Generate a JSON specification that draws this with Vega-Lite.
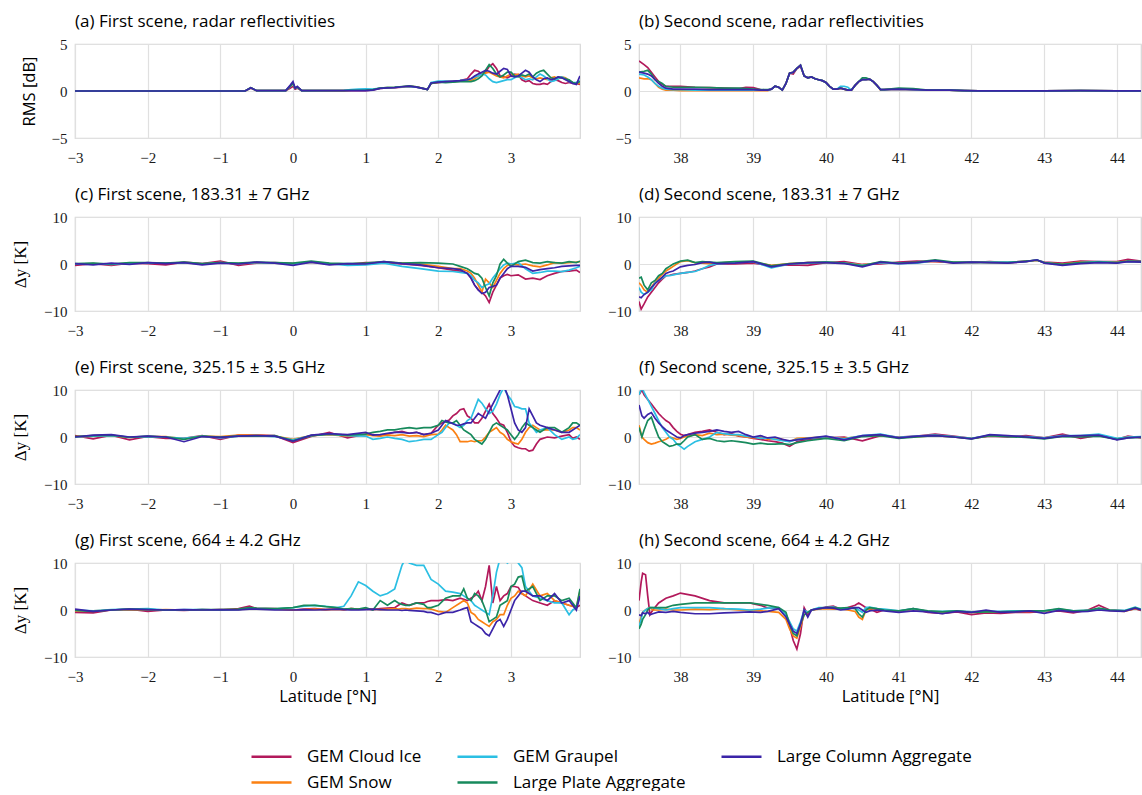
{
"$schema": "https://vega.github.io/schema/vega-lite/v6.json",
"padding": {"left": 10, "top": 12, "right": 0, "bottom": 0},
"columns": 2,
"spacing": {"row": 79, "column": 59},
"bounds": "flush",
"config": {
 "font": "Open Sans",
 "view": {"stroke": "#d6d6d6", "strokeWidth": 1.2},
 "axis": {"domain": false, "ticks": false, "grid": true, "gridColor": "#e0e0e0", "gridWidth": 1.2, "labelFlush": false, "labelOverlap": false, "labelFont": "Liberation Serif", "labelFontSize": 15, "labelColor": "#1a1a1a", "titleFont": "Open Sans", "titleFontSize": 16.5, "titleFontWeight": "normal", "titleColor": "#000000"},
 "axisX": {"labelPadding": 12, "titlePadding": 4},
 "axisY": {"labelPadding": 8, "titlePadding": 14},
 "title": {"font": "Open Sans", "fontSize": 17, "fontWeight": "normal", "anchor": "start", "frame": "group", "offset": 6, "color": "#000000"},
 "legend": {"padding": 0}
},
"datasets": {
"a": [
{"s":"A","x":-3,"y":0},{"s":"A","x":-2,"y":0},{"s":"A","x":-1,"y":0},{"s":"A","x":-0.66,"y":0},{"s":"A","x":-0.58,"y":0.3},{"s":"A","x":-0.5,"y":0.03},{"s":"A","x":-0.1,"y":0.05},{"s":"A","x":-0.04,"y":0.3},{"s":"A","x":0,"y":0.5},{"s":"A","x":0.03,"y":0.2},{"s":"A","x":0.06,"y":0.3},{"s":"A","x":0.12,"y":0.05},{"s":"A","x":0.7,"y":0.05},
{"s":"A","x":0.8,"y":0.05},{"s":"A","x":0.9,"y":0.05},{"s":"A","x":1,"y":0.05},{"s":"A","x":1.1,"y":0.12},{"s":"A","x":1.2,"y":0.28},{"s":"A","x":1.3,"y":0.33},{"s":"A","x":1.4,"y":0.35},{"s":"A","x":1.5,"y":0.42},{"s":"A","x":1.6,"y":0.5},{"s":"A","x":1.7,"y":0.42},{"s":"A","x":1.8,"y":0.25},{"s":"A","x":1.85,"y":0.15},{"s":"A","x":1.9,"y":0.8},{"s":"A","x":2,"y":0.9},{"s":"A","x":2.1,"y":1},{"s":"A","x":2.2,"y":1},{"s":"A","x":2.3,"y":1.1},{"s":"A","x":2.4,"y":1.3},
{"s":"A","x":2.45,"y":1.8},{"s":"A","x":2.5,"y":2.2},{"s":"A","x":2.55,"y":2.1},{"s":"A","x":2.6,"y":1.8},{"s":"A","x":2.65,"y":2},{"s":"A","x":2.7,"y":2.6},{"s":"A","x":2.75,"y":2.9},{"s":"A","x":2.8,"y":2.4},{"s":"A","x":2.85,"y":1.6},{"s":"A","x":2.9,"y":1.5},{"s":"A","x":2.95,"y":1.4},{"s":"A","x":3,"y":1.6},{"s":"A","x":3.05,"y":1.8},{"s":"A","x":3.1,"y":1.7},{"s":"A","x":3.15,"y":1.2},{"s":"A","x":3.2,"y":1},{"s":"A","x":3.25,"y":1.1},{"s":"A","x":3.3,"y":0.8},{"s":"A","x":3.35,"y":0.7},{"s":"A","x":3.4,"y":0.7},{"s":"A","x":3.45,"y":0.8},{"s":"A","x":3.5,"y":0.7},{"s":"A","x":3.55,"y":1},{"s":"A","x":3.6,"y":1.2},{"s":"A","x":3.65,"y":1.1},{"s":"A","x":3.7,"y":0.9},{"s":"A","x":3.75,"y":0.8},{"s":"A","x":3.8,"y":0.9},{"s":"A","x":3.85,"y":0.8},{"s":"A","x":3.9,"y":0.8},{"s":"A","x":3.95,"y":0.7},
{"s":"B","x":-3,"y":0},{"s":"B","x":-2,"y":0},{"s":"B","x":-1,"y":0},{"s":"B","x":-0.66,"y":0},{"s":"B","x":-0.58,"y":0.35},{"s":"B","x":-0.5,"y":0.03},{"s":"B","x":-0.1,"y":0.05},{"s":"B","x":-0.04,"y":0.5},{"s":"B","x":0,"y":0.8},{"s":"B","x":0.03,"y":0.3},{"s":"B","x":0.06,"y":0.4},{"s":"B","x":0.12,"y":0.05},{"s":"B","x":0.7,"y":0.05},
{"s":"B","x":0.8,"y":0.08},{"s":"B","x":0.9,"y":0.1},{"s":"B","x":1,"y":0.1},{"s":"B","x":1.1,"y":0.15},{"s":"B","x":1.2,"y":0.3},{"s":"B","x":1.3,"y":0.35},{"s":"B","x":1.4,"y":0.38},{"s":"B","x":1.5,"y":0.45},{"s":"B","x":1.6,"y":0.5},{"s":"B","x":1.7,"y":0.45},{"s":"B","x":1.8,"y":0.25},{"s":"B","x":1.85,"y":0.15},{"s":"B","x":1.9,"y":0.85},{"s":"B","x":2,"y":0.95},{"s":"B","x":2.1,"y":1},{"s":"B","x":2.2,"y":1},{"s":"B","x":2.3,"y":1.05},{"s":"B","x":2.4,"y":1.1},
{"s":"B","x":2.45,"y":1.1},{"s":"B","x":2.5,"y":1.3},{"s":"B","x":2.55,"y":1.6},{"s":"B","x":2.6,"y":1.8},{"s":"B","x":2.65,"y":1.9},{"s":"B","x":2.7,"y":2},{"s":"B","x":2.75,"y":1.8},{"s":"B","x":2.8,"y":1.6},{"s":"B","x":2.85,"y":1.5},{"s":"B","x":2.9,"y":1.4},{"s":"B","x":2.95,"y":1.6},{"s":"B","x":3,"y":1.8},{"s":"B","x":3.05,"y":1.7},{"s":"B","x":3.1,"y":1.8},{"s":"B","x":3.15,"y":1.6},{"s":"B","x":3.2,"y":1.5},{"s":"B","x":3.25,"y":1.6},{"s":"B","x":3.3,"y":1.4},{"s":"B","x":3.35,"y":1.3},{"s":"B","x":3.4,"y":1.4},{"s":"B","x":3.45,"y":1.3},{"s":"B","x":3.5,"y":1.2},{"s":"B","x":3.55,"y":1.4},{"s":"B","x":3.6,"y":1.5},{"s":"B","x":3.65,"y":1.3},{"s":"B","x":3.7,"y":1.5},{"s":"B","x":3.75,"y":1.4},{"s":"B","x":3.8,"y":1.1},{"s":"B","x":3.85,"y":0.9},{"s":"B","x":3.9,"y":0.8},{"s":"B","x":3.95,"y":0.8},
{"s":"C","x":-3,"y":0},{"s":"C","x":-2,"y":0},{"s":"C","x":-1,"y":0},{"s":"C","x":-0.66,"y":0},{"s":"C","x":-0.58,"y":0.35},{"s":"C","x":-0.5,"y":0.03},{"s":"C","x":-0.1,"y":0.05},{"s":"C","x":-0.04,"y":0.5},{"s":"C","x":0,"y":0.8},{"s":"C","x":0.03,"y":0.3},{"s":"C","x":0.06,"y":0.4},{"s":"C","x":0.12,"y":0.05},{"s":"C","x":0.7,"y":0.08},
{"s":"C","x":0.8,"y":0.15},{"s":"C","x":0.9,"y":0.2},{"s":"C","x":1,"y":0.22},{"s":"C","x":1.1,"y":0.2},{"s":"C","x":1.2,"y":0.3},{"s":"C","x":1.3,"y":0.35},{"s":"C","x":1.4,"y":0.38},{"s":"C","x":1.5,"y":0.45},{"s":"C","x":1.6,"y":0.45},{"s":"C","x":1.7,"y":0.4},{"s":"C","x":1.8,"y":0.25},{"s":"C","x":1.85,"y":0.15},{"s":"C","x":1.9,"y":0.9},{"s":"C","x":2,"y":1.05},{"s":"C","x":2.1,"y":1.05},{"s":"C","x":2.2,"y":1},{"s":"C","x":2.3,"y":1.1},{"s":"C","x":2.4,"y":1.2},
{"s":"C","x":2.45,"y":1.3},{"s":"C","x":2.5,"y":1.5},{"s":"C","x":2.55,"y":1.6},{"s":"C","x":2.6,"y":1.8},{"s":"C","x":2.65,"y":1.7},{"s":"C","x":2.7,"y":1.3},{"s":"C","x":2.75,"y":1},{"s":"C","x":2.8,"y":0.9},{"s":"C","x":2.85,"y":1},{"s":"C","x":2.9,"y":1.1},{"s":"C","x":2.95,"y":1.2},{"s":"C","x":3,"y":1.2},{"s":"C","x":3.05,"y":1.4},{"s":"C","x":3.1,"y":1.6},{"s":"C","x":3.15,"y":1.4},{"s":"C","x":3.2,"y":1.2},{"s":"C","x":3.25,"y":1.3},{"s":"C","x":3.3,"y":1.2},{"s":"C","x":3.35,"y":1.5},{"s":"C","x":3.4,"y":1.8},{"s":"C","x":3.45,"y":1.6},{"s":"C","x":3.5,"y":1.3},{"s":"C","x":3.55,"y":1},{"s":"C","x":3.6,"y":1.1},{"s":"C","x":3.65,"y":1.3},{"s":"C","x":3.7,"y":1.5},{"s":"C","x":3.75,"y":1.3},{"s":"C","x":3.8,"y":1},{"s":"C","x":3.85,"y":0.9},{"s":"C","x":3.9,"y":0.9},{"s":"C","x":3.95,"y":1.1},
{"s":"D","x":-3,"y":0},{"s":"D","x":-2,"y":0},{"s":"D","x":-1,"y":0},{"s":"D","x":-0.66,"y":0},{"s":"D","x":-0.58,"y":0.35},{"s":"D","x":-0.5,"y":0.03},{"s":"D","x":-0.1,"y":0.05},{"s":"D","x":-0.04,"y":0.5},{"s":"D","x":0,"y":0.8},{"s":"D","x":0.03,"y":0.3},{"s":"D","x":0.06,"y":0.4},{"s":"D","x":0.12,"y":0.05},{"s":"D","x":0.7,"y":0.05},
{"s":"D","x":0.8,"y":0.08},{"s":"D","x":0.9,"y":0.08},{"s":"D","x":1,"y":0.1},{"s":"D","x":1.1,"y":0.15},{"s":"D","x":1.2,"y":0.3},{"s":"D","x":1.3,"y":0.35},{"s":"D","x":1.4,"y":0.4},{"s":"D","x":1.5,"y":0.48},{"s":"D","x":1.6,"y":0.55},{"s":"D","x":1.7,"y":0.45},{"s":"D","x":1.8,"y":0.25},{"s":"D","x":1.85,"y":0.15},{"s":"D","x":1.9,"y":0.8},{"s":"D","x":2,"y":0.95},{"s":"D","x":2.1,"y":0.9},{"s":"D","x":2.2,"y":0.95},{"s":"D","x":2.3,"y":1},{"s":"D","x":2.4,"y":1},
{"s":"D","x":2.45,"y":1},{"s":"D","x":2.5,"y":1.1},{"s":"D","x":2.55,"y":1.3},{"s":"D","x":2.6,"y":1.6},{"s":"D","x":2.65,"y":2.2},{"s":"D","x":2.7,"y":2.8},{"s":"D","x":2.75,"y":2.4},{"s":"D","x":2.8,"y":1.8},{"s":"D","x":2.85,"y":1.5},{"s":"D","x":2.9,"y":1.7},{"s":"D","x":2.95,"y":2},{"s":"D","x":3,"y":2},{"s":"D","x":3.05,"y":1.6},{"s":"D","x":3.1,"y":1.5},{"s":"D","x":3.15,"y":1.7},{"s":"D","x":3.2,"y":1.6},{"s":"D","x":3.25,"y":1.8},{"s":"D","x":3.3,"y":1.5},{"s":"D","x":3.35,"y":1.9},{"s":"D","x":3.4,"y":2.1},{"s":"D","x":3.45,"y":2.2},{"s":"D","x":3.5,"y":1.8},{"s":"D","x":3.55,"y":1.4},{"s":"D","x":3.6,"y":1.3},{"s":"D","x":3.65,"y":1.5},{"s":"D","x":3.7,"y":1.4},{"s":"D","x":3.75,"y":1.3},{"s":"D","x":3.8,"y":1.2},{"s":"D","x":3.85,"y":0.9},{"s":"D","x":3.9,"y":0.8},{"s":"D","x":3.95,"y":1},
{"s":"E","x":-3,"y":0},{"s":"E","x":-2,"y":0},{"s":"E","x":-1,"y":0},{"s":"E","x":-0.66,"y":0},{"s":"E","x":-0.58,"y":0.35},{"s":"E","x":-0.5,"y":0.03},{"s":"E","x":-0.1,"y":0.05},{"s":"E","x":-0.04,"y":0.6},{"s":"E","x":0,"y":1},{"s":"E","x":0.03,"y":0.3},{"s":"E","x":0.06,"y":0.5},{"s":"E","x":0.12,"y":0.05},{"s":"E","x":0.7,"y":0.05},
{"s":"E","x":0.8,"y":0.05},{"s":"E","x":0.9,"y":0.05},{"s":"E","x":1,"y":0.05},{"s":"E","x":1.1,"y":0.1},{"s":"E","x":1.2,"y":0.28},{"s":"E","x":1.3,"y":0.33},{"s":"E","x":1.4,"y":0.36},{"s":"E","x":1.5,"y":0.45},{"s":"E","x":1.6,"y":0.52},{"s":"E","x":1.7,"y":0.42},{"s":"E","x":1.8,"y":0.25},{"s":"E","x":1.85,"y":0.15},{"s":"E","x":1.9,"y":0.85},{"s":"E","x":2,"y":0.95},{"s":"E","x":2.1,"y":1},{"s":"E","x":2.2,"y":1.05},{"s":"E","x":2.3,"y":1.1},{"s":"E","x":2.4,"y":1.2},
{"s":"E","x":2.45,"y":1.3},{"s":"E","x":2.5,"y":1.6},{"s":"E","x":2.55,"y":1.8},{"s":"E","x":2.6,"y":2},{"s":"E","x":2.65,"y":2.2},{"s":"E","x":2.7,"y":2.1},{"s":"E","x":2.75,"y":1.9},{"s":"E","x":2.8,"y":1.8},{"s":"E","x":2.85,"y":2.1},{"s":"E","x":2.9,"y":2.4},{"s":"E","x":2.95,"y":2.3},{"s":"E","x":3,"y":1.6},{"s":"E","x":3.05,"y":1.5},{"s":"E","x":3.1,"y":1.6},{"s":"E","x":3.15,"y":1.9},{"s":"E","x":3.2,"y":2.2},{"s":"E","x":3.25,"y":2},{"s":"E","x":3.3,"y":1.5},{"s":"E","x":3.35,"y":1.2},{"s":"E","x":3.4,"y":1},{"s":"E","x":3.45,"y":1.3},{"s":"E","x":3.5,"y":1.4},{"s":"E","x":3.55,"y":1.2},{"s":"E","x":3.6,"y":1.3},{"s":"E","x":3.65,"y":1.5},{"s":"E","x":3.7,"y":1.4},{"s":"E","x":3.75,"y":1.2},{"s":"E","x":3.8,"y":1},{"s":"E","x":3.85,"y":0.8},{"s":"E","x":3.9,"y":0.7},{"s":"E","x":3.95,"y":1.6}
],
"b": [
{"s":"A","x":37.43,"y":3.2},{"s":"A","x":37.5,"y":2.8},{"s":"A","x":37.55,"y":2.5},{"s":"A","x":37.6,"y":2},{"s":"A","x":37.65,"y":1.5},{"s":"A","x":37.7,"y":1},{"s":"A","x":37.75,"y":0.7},{"s":"A","x":37.8,"y":0.5},{"s":"A","x":37.9,"y":0.5},{"s":"A","x":38,"y":0.5},{"s":"A","x":38.2,"y":0.4},{"s":"A","x":38.4,"y":0.35},{"s":"A","x":38.6,"y":0.3},{"s":"A","x":38.8,"y":0.25},{"s":"A","x":38.9,"y":0.4},{"s":"A","x":39,"y":0.35},{"s":"A","x":39.1,"y":0.15},{"s":"A","x":39.2,"y":0.1},
{"s":"A","x":39.25,"y":0.2},{"s":"A","x":39.3,"y":0.5},{"s":"A","x":39.35,"y":0.4},{"s":"A","x":39.4,"y":0.1},{"s":"A","x":39.45,"y":0.8},{"s":"A","x":39.5,"y":1.9},{"s":"A","x":39.55,"y":1.8},{"s":"A","x":39.6,"y":2.4},{"s":"A","x":39.65,"y":2.6},{"s":"A","x":39.7,"y":1.6},{"s":"A","x":39.75,"y":1.4},{"s":"A","x":39.8,"y":1.5},{"s":"A","x":39.85,"y":1.3},{"s":"A","x":39.9,"y":1.2},{"s":"A","x":39.95,"y":1.1},{"s":"A","x":40,"y":0.9},{"s":"A","x":40.05,"y":0.5},{"s":"A","x":40.1,"y":0.2},{"s":"A","x":40.15,"y":0.2},{"s":"A","x":40.2,"y":0.3},{"s":"A","x":40.25,"y":0.2},{"s":"A","x":40.3,"y":0.1},{"s":"A","x":40.35,"y":0.1},{"s":"A","x":40.4,"y":0.6},{"s":"A","x":40.45,"y":1},{"s":"A","x":40.5,"y":1.2},{"s":"A","x":40.55,"y":1.2},{"s":"A","x":40.6,"y":1.25},{"s":"A","x":40.65,"y":1},{"s":"A","x":40.7,"y":0.6},{"s":"A","x":40.75,"y":0.15},{"s":"A","x":40.8,"y":0.15},{"s":"A","x":41,"y":0.2},{"s":"A","x":41.2,"y":0.15},{"s":"A","x":41.4,"y":0.1},{"s":"A","x":41.7,"y":0.1},{"s":"A","x":41.9,"y":0.05},{"s":"A","x":42.1,"y":0.02},{"s":"A","x":43,"y":0.02},{"s":"A","x":43.5,"y":0.05},{"s":"A","x":44,"y":0.02},{"s":"A","x":44.33,"y":0.02},
{"s":"B","x":37.43,"y":1.4},{"s":"B","x":37.5,"y":1.3},{"s":"B","x":37.55,"y":1.3},{"s":"B","x":37.6,"y":1.2},{"s":"B","x":37.65,"y":0.8},{"s":"B","x":37.7,"y":0.4},{"s":"B","x":37.75,"y":0.2},{"s":"B","x":37.8,"y":0.1},{"s":"B","x":37.9,"y":0.1},{"s":"B","x":38,"y":0.05},{"s":"B","x":38.2,"y":0.05},{"s":"B","x":38.4,"y":0.05},{"s":"B","x":38.6,"y":0.05},{"s":"B","x":38.8,"y":0.05},{"s":"B","x":38.9,"y":0.05},{"s":"B","x":39,"y":0.05},{"s":"B","x":39.1,"y":0.05},{"s":"B","x":39.2,"y":0.05},
{"s":"B","x":39.25,"y":0.2},{"s":"B","x":39.3,"y":0.5},{"s":"B","x":39.35,"y":0.4},{"s":"B","x":39.4,"y":0.1},{"s":"B","x":39.45,"y":0.8},{"s":"B","x":39.5,"y":1.9},{"s":"B","x":39.55,"y":2},{"s":"B","x":39.6,"y":2.4},{"s":"B","x":39.65,"y":2.75},{"s":"B","x":39.7,"y":1.6},{"s":"B","x":39.75,"y":1.4},{"s":"B","x":39.8,"y":1.5},{"s":"B","x":39.85,"y":1.3},{"s":"B","x":39.9,"y":1.2},{"s":"B","x":39.95,"y":1.1},{"s":"B","x":40,"y":0.9},{"s":"B","x":40.05,"y":0.5},{"s":"B","x":40.1,"y":0.2},{"s":"B","x":40.15,"y":0.2},{"s":"B","x":40.2,"y":0.3},{"s":"B","x":40.25,"y":0.2},{"s":"B","x":40.3,"y":0.1},{"s":"B","x":40.35,"y":0.1},{"s":"B","x":40.4,"y":0.6},{"s":"B","x":40.45,"y":1},{"s":"B","x":40.5,"y":1.2},{"s":"B","x":40.55,"y":1.2},{"s":"B","x":40.6,"y":1.25},{"s":"B","x":40.65,"y":1},{"s":"B","x":40.7,"y":0.6},{"s":"B","x":40.75,"y":0.1},{"s":"B","x":40.8,"y":0.15},{"s":"B","x":41,"y":0.2},{"s":"B","x":41.2,"y":0.15},{"s":"B","x":41.4,"y":0.1},{"s":"B","x":41.7,"y":0.1},{"s":"B","x":41.9,"y":0.05},{"s":"B","x":42.1,"y":0.02},{"s":"B","x":43,"y":0.02},{"s":"B","x":43.5,"y":0.05},{"s":"B","x":44,"y":0.02},{"s":"B","x":44.33,"y":0.02},
{"s":"C","x":37.43,"y":1.8},{"s":"C","x":37.5,"y":1.7},{"s":"C","x":37.55,"y":1.5},{"s":"C","x":37.6,"y":1.2},{"s":"C","x":37.65,"y":0.8},{"s":"C","x":37.7,"y":0.5},{"s":"C","x":37.75,"y":0.3},{"s":"C","x":37.8,"y":0.2},{"s":"C","x":37.9,"y":0.15},{"s":"C","x":38,"y":0.15},{"s":"C","x":38.2,"y":0.1},{"s":"C","x":38.4,"y":0.1},{"s":"C","x":38.6,"y":0.1},{"s":"C","x":38.8,"y":0.1},{"s":"C","x":38.9,"y":0.1},{"s":"C","x":39,"y":0.1},{"s":"C","x":39.1,"y":0.1},{"s":"C","x":39.2,"y":0.1},
{"s":"C","x":39.25,"y":0.2},{"s":"C","x":39.3,"y":0.5},{"s":"C","x":39.35,"y":0.4},{"s":"C","x":39.4,"y":0.1},{"s":"C","x":39.45,"y":0.8},{"s":"C","x":39.5,"y":1.9},{"s":"C","x":39.55,"y":2},{"s":"C","x":39.6,"y":2.4},{"s":"C","x":39.65,"y":2.75},{"s":"C","x":39.7,"y":1.6},{"s":"C","x":39.75,"y":1.4},{"s":"C","x":39.8,"y":1.5},{"s":"C","x":39.85,"y":1.3},{"s":"C","x":39.9,"y":1.2},{"s":"C","x":39.95,"y":1.1},{"s":"C","x":40,"y":0.9},{"s":"C","x":40.05,"y":0.5},{"s":"C","x":40.1,"y":0.2},{"s":"C","x":40.15,"y":0.2},{"s":"C","x":40.2,"y":0.5},{"s":"C","x":40.25,"y":0.5},{"s":"C","x":40.3,"y":0.4},{"s":"C","x":40.35,"y":0.1},{"s":"C","x":40.4,"y":0.6},{"s":"C","x":40.45,"y":1},{"s":"C","x":40.5,"y":1.2},{"s":"C","x":40.55,"y":1.2},{"s":"C","x":40.6,"y":1.25},{"s":"C","x":40.65,"y":1},{"s":"C","x":40.7,"y":0.6},{"s":"C","x":40.75,"y":0.15},{"s":"C","x":40.8,"y":0.15},{"s":"C","x":41,"y":0.2},{"s":"C","x":41.2,"y":0.15},{"s":"C","x":41.4,"y":0.1},{"s":"C","x":41.7,"y":0.1},{"s":"C","x":41.9,"y":0.05},{"s":"C","x":42.1,"y":0.02},{"s":"C","x":43,"y":0.02},{"s":"C","x":43.5,"y":0.05},{"s":"C","x":44,"y":0.02},{"s":"C","x":44.33,"y":0.02},
{"s":"D","x":37.43,"y":2},{"s":"D","x":37.5,"y":2.1},{"s":"D","x":37.55,"y":2.2},{"s":"D","x":37.6,"y":1.8},{"s":"D","x":37.65,"y":1.2},{"s":"D","x":37.7,"y":1},{"s":"D","x":37.75,"y":0.8},{"s":"D","x":37.8,"y":0.5},{"s":"D","x":37.9,"y":0.4},{"s":"D","x":38,"y":0.4},{"s":"D","x":38.2,"y":0.4},{"s":"D","x":38.4,"y":0.35},{"s":"D","x":38.6,"y":0.3},{"s":"D","x":38.8,"y":0.3},{"s":"D","x":38.9,"y":0.25},{"s":"D","x":39,"y":0.2},{"s":"D","x":39.1,"y":0.15},{"s":"D","x":39.2,"y":0.15},
{"s":"D","x":39.25,"y":0.2},{"s":"D","x":39.3,"y":0.5},{"s":"D","x":39.35,"y":0.4},{"s":"D","x":39.4,"y":0.1},{"s":"D","x":39.45,"y":0.8},{"s":"D","x":39.5,"y":1.9},{"s":"D","x":39.55,"y":2},{"s":"D","x":39.6,"y":2.4},{"s":"D","x":39.65,"y":2.75},{"s":"D","x":39.7,"y":1.6},{"s":"D","x":39.75,"y":1.4},{"s":"D","x":39.8,"y":1.5},{"s":"D","x":39.85,"y":1.3},{"s":"D","x":39.9,"y":1.2},{"s":"D","x":39.95,"y":1.1},{"s":"D","x":40,"y":0.9},{"s":"D","x":40.05,"y":0.5},{"s":"D","x":40.1,"y":0.2},{"s":"D","x":40.15,"y":0.2},{"s":"D","x":40.2,"y":0.3},{"s":"D","x":40.25,"y":0.2},{"s":"D","x":40.3,"y":0.1},{"s":"D","x":40.35,"y":0.1},{"s":"D","x":40.4,"y":0.6},{"s":"D","x":40.45,"y":1},{"s":"D","x":40.5,"y":1.4},{"s":"D","x":40.55,"y":1.4},{"s":"D","x":40.6,"y":1.25},{"s":"D","x":40.65,"y":1},{"s":"D","x":40.7,"y":0.6},{"s":"D","x":40.75,"y":0.15},{"s":"D","x":40.8,"y":0.15},{"s":"D","x":41,"y":0.3},{"s":"D","x":41.2,"y":0.25},{"s":"D","x":41.4,"y":0.1},{"s":"D","x":41.7,"y":0.1},{"s":"D","x":41.9,"y":0.05},{"s":"D","x":42.1,"y":0.02},{"s":"D","x":43,"y":0.02},{"s":"D","x":43.5,"y":0.05},{"s":"D","x":44,"y":0.02},{"s":"D","x":44.33,"y":0.02},
{"s":"E","x":37.43,"y":2},{"s":"E","x":37.5,"y":1.9},{"s":"E","x":37.55,"y":1.8},{"s":"E","x":37.6,"y":1.6},{"s":"E","x":37.65,"y":1.2},{"s":"E","x":37.7,"y":0.8},{"s":"E","x":37.75,"y":0.5},{"s":"E","x":37.8,"y":0.3},{"s":"E","x":37.9,"y":0.2},{"s":"E","x":38,"y":0.2},{"s":"E","x":38.2,"y":0.2},{"s":"E","x":38.4,"y":0.15},{"s":"E","x":38.6,"y":0.15},{"s":"E","x":38.8,"y":0.15},{"s":"E","x":38.9,"y":0.15},{"s":"E","x":39,"y":0.15},{"s":"E","x":39.1,"y":0.1},{"s":"E","x":39.2,"y":0.1},
{"s":"E","x":39.25,"y":0.2},{"s":"E","x":39.3,"y":0.5},{"s":"E","x":39.35,"y":0.4},{"s":"E","x":39.4,"y":0.1},{"s":"E","x":39.45,"y":0.8},{"s":"E","x":39.5,"y":1.9},{"s":"E","x":39.55,"y":2},{"s":"E","x":39.6,"y":2.4},{"s":"E","x":39.65,"y":2.75},{"s":"E","x":39.7,"y":1.6},{"s":"E","x":39.75,"y":1.4},{"s":"E","x":39.8,"y":1.5},{"s":"E","x":39.85,"y":1.3},{"s":"E","x":39.9,"y":1.2},{"s":"E","x":39.95,"y":1.1},{"s":"E","x":40,"y":0.9},{"s":"E","x":40.05,"y":0.5},{"s":"E","x":40.1,"y":0.2},{"s":"E","x":40.15,"y":0.2},{"s":"E","x":40.2,"y":0.3},{"s":"E","x":40.25,"y":0.2},{"s":"E","x":40.3,"y":0.1},{"s":"E","x":40.35,"y":0.1},{"s":"E","x":40.4,"y":0.6},{"s":"E","x":40.45,"y":1},{"s":"E","x":40.5,"y":1.2},{"s":"E","x":40.55,"y":1.2},{"s":"E","x":40.6,"y":1.25},{"s":"E","x":40.65,"y":1},{"s":"E","x":40.7,"y":0.6},{"s":"E","x":40.75,"y":0.15},{"s":"E","x":40.8,"y":0.15},{"s":"E","x":41,"y":0.2},{"s":"E","x":41.2,"y":0.15},{"s":"E","x":41.4,"y":0.1},{"s":"E","x":41.7,"y":0.1},{"s":"E","x":41.9,"y":0.05},{"s":"E","x":42.1,"y":0.02},{"s":"E","x":43,"y":0.02},{"s":"E","x":43.5,"y":0.05},{"s":"E","x":44,"y":0.02},{"s":"E","x":44.33,"y":0.02}
],
"c": [
{"s":"A","x":-3,"y":-0.3},{"s":"A","x":-2.75,"y":0.1},{"s":"A","x":-2.5,"y":-0.3},{"s":"A","x":-2.25,"y":0.2},{"s":"A","x":-2,"y":0.1},{"s":"A","x":-1.75,"y":-0.2},{"s":"A","x":-1.5,"y":0.4},{"s":"A","x":-1.25,"y":0.1},{"s":"A","x":-1,"y":0.6},{"s":"A","x":-0.75,"y":-0.3},{"s":"A","x":-0.5,"y":0.2},{"s":"A","x":-0.25,"y":0.3},{"s":"A","x":0,"y":0.1},{"s":"A","x":0.25,"y":0.4},{"s":"A","x":0.5,"y":0},{"s":"A","x":0.75,"y":-0.1},{"s":"A","x":1,"y":0.3},{"s":"A","x":1.25,"y":0.3},
{"s":"A","x":1.5,"y":0},{"s":"A","x":1.75,"y":-0.3},{"s":"A","x":2,"y":-0.8},{"s":"A","x":2.2,"y":-1.3},{"s":"A","x":2.3,"y":-1.5},{"s":"A","x":2.4,"y":-2},{"s":"A","x":2.45,"y":-3},{"s":"A","x":2.5,"y":-4.5},{"s":"A","x":2.55,"y":-5.5},{"s":"A","x":2.6,"y":-6},{"s":"A","x":2.65,"y":-6.8},{"s":"A","x":2.7,"y":-8.2},{"s":"A","x":2.75,"y":-6},{"s":"A","x":2.8,"y":-4.5},{"s":"A","x":2.85,"y":-3},{"s":"A","x":2.9,"y":-2.5},{"s":"A","x":2.95,"y":-2.2},{"s":"A","x":3,"y":-2.5},{"s":"A","x":3.1,"y":-2.3},{"s":"A","x":3.2,"y":-3.2},{"s":"A","x":3.3,"y":-3},{"s":"A","x":3.4,"y":-3.3},{"s":"A","x":3.5,"y":-2.5},{"s":"A","x":3.6,"y":-2},{"s":"A","x":3.7,"y":-1.6},{"s":"A","x":3.8,"y":-1.5},{"s":"A","x":3.9,"y":-1.3},{"s":"A","x":3.95,"y":-1.8},
{"s":"B","x":-3,"y":0},{"s":"B","x":-2.75,"y":0.1},{"s":"B","x":-2.5,"y":-0.1},{"s":"B","x":-2.25,"y":0.2},{"s":"B","x":-2,"y":0.2},{"s":"B","x":-1.75,"y":0.2},{"s":"B","x":-1.5,"y":0.3},{"s":"B","x":-1.25,"y":0},{"s":"B","x":-1,"y":0.3},{"s":"B","x":-0.75,"y":0.1},{"s":"B","x":-0.5,"y":0.3},{"s":"B","x":-0.25,"y":0.2},{"s":"B","x":0,"y":0},{"s":"B","x":0.25,"y":0.4},{"s":"B","x":0.5,"y":0.1},{"s":"B","x":0.75,"y":0},{"s":"B","x":1,"y":0.1},{"s":"B","x":1.25,"y":0.4},
{"s":"B","x":1.5,"y":0.2},{"s":"B","x":1.75,"y":0},{"s":"B","x":2,"y":-0.5},{"s":"B","x":2.2,"y":-1},{"s":"B","x":2.3,"y":-1},{"s":"B","x":2.4,"y":-1.5},{"s":"B","x":2.45,"y":-2},{"s":"B","x":2.5,"y":-3},{"s":"B","x":2.55,"y":-4.5},{"s":"B","x":2.6,"y":-6},{"s":"B","x":2.65,"y":-3.2},{"s":"B","x":2.7,"y":-4},{"s":"B","x":2.75,"y":-5},{"s":"B","x":2.8,"y":-3.5},{"s":"B","x":2.85,"y":-2},{"s":"B","x":2.9,"y":-1},{"s":"B","x":2.95,"y":-0.3},{"s":"B","x":3,"y":0},{"s":"B","x":3.1,"y":-0.2},{"s":"B","x":3.2,"y":0},{"s":"B","x":3.3,"y":-0.4},{"s":"B","x":3.4,"y":-0.6},{"s":"B","x":3.5,"y":-0.2},{"s":"B","x":3.6,"y":0.3},{"s":"B","x":3.7,"y":0.2},{"s":"B","x":3.8,"y":0.3},{"s":"B","x":3.9,"y":0.4},{"s":"B","x":3.95,"y":0.5},
{"s":"C","x":-3,"y":0},{"s":"C","x":-2.75,"y":0.1},{"s":"C","x":-2.5,"y":-0.1},{"s":"C","x":-2.25,"y":0.2},{"s":"C","x":-2,"y":0.2},{"s":"C","x":-1.75,"y":0.2},{"s":"C","x":-1.5,"y":0.3},{"s":"C","x":-1.25,"y":0},{"s":"C","x":-1,"y":0.3},{"s":"C","x":-0.75,"y":0.1},{"s":"C","x":-0.5,"y":0.3},{"s":"C","x":-0.25,"y":0.2},{"s":"C","x":0,"y":0},{"s":"C","x":0.25,"y":0.4},{"s":"C","x":0.5,"y":0.1},{"s":"C","x":0.75,"y":-0.3},{"s":"C","x":1,"y":-0.2},{"s":"C","x":1.25,"y":0.2},
{"s":"C","x":1.5,"y":-0.5},{"s":"C","x":1.75,"y":-1},{"s":"C","x":2,"y":-1.5},{"s":"C","x":2.2,"y":-1.6},{"s":"C","x":2.3,"y":-1.8},{"s":"C","x":2.4,"y":-2},{"s":"C","x":2.45,"y":-2.5},{"s":"C","x":2.5,"y":-3.5},{"s":"C","x":2.55,"y":-4},{"s":"C","x":2.6,"y":-5},{"s":"C","x":2.65,"y":-4.5},{"s":"C","x":2.7,"y":-4.2},{"s":"C","x":2.75,"y":-3},{"s":"C","x":2.8,"y":-2},{"s":"C","x":2.85,"y":-1},{"s":"C","x":2.9,"y":-0.2},{"s":"C","x":2.95,"y":0.2},{"s":"C","x":3,"y":0},{"s":"C","x":3.1,"y":0.3},{"s":"C","x":3.2,"y":-1},{"s":"C","x":3.3,"y":-2},{"s":"C","x":3.4,"y":-1.8},{"s":"C","x":3.5,"y":-1.5},{"s":"C","x":3.6,"y":-1.5},{"s":"C","x":3.7,"y":-1.6},{"s":"C","x":3.8,"y":-1.3},{"s":"C","x":3.9,"y":-0.8},{"s":"C","x":3.95,"y":-0.5},
{"s":"D","x":-3,"y":0.1},{"s":"D","x":-2.75,"y":0.2},{"s":"D","x":-2.5,"y":0},{"s":"D","x":-2.25,"y":0.3},{"s":"D","x":-2,"y":0.3},{"s":"D","x":-1.75,"y":0.2},{"s":"D","x":-1.5,"y":0.4},{"s":"D","x":-1.25,"y":0.1},{"s":"D","x":-1,"y":0.3},{"s":"D","x":-0.75,"y":0.2},{"s":"D","x":-0.5,"y":0.4},{"s":"D","x":-0.25,"y":0.3},{"s":"D","x":0,"y":0.2},{"s":"D","x":0.25,"y":0.6},{"s":"D","x":0.5,"y":0.2},{"s":"D","x":0.75,"y":0.1},{"s":"D","x":1,"y":0.2},{"s":"D","x":1.25,"y":0.5},
{"s":"D","x":1.5,"y":0.2},{"s":"D","x":1.75,"y":0.3},{"s":"D","x":2,"y":0.2},{"s":"D","x":2.2,"y":0},{"s":"D","x":2.3,"y":-0.5},{"s":"D","x":2.4,"y":-1},{"s":"D","x":2.45,"y":-1.5},{"s":"D","x":2.5,"y":-2},{"s":"D","x":2.55,"y":-2.2},{"s":"D","x":2.6,"y":-3},{"s":"D","x":2.65,"y":-5},{"s":"D","x":2.7,"y":-6.8},{"s":"D","x":2.75,"y":-4},{"s":"D","x":2.8,"y":-2.5},{"s":"D","x":2.85,"y":0},{"s":"D","x":2.9,"y":1},{"s":"D","x":2.95,"y":0.2},{"s":"D","x":3,"y":-0.5},{"s":"D","x":3.1,"y":0.5},{"s":"D","x":3.2,"y":0.8},{"s":"D","x":3.3,"y":0.3},{"s":"D","x":3.4,"y":0.2},{"s":"D","x":3.5,"y":0.5},{"s":"D","x":3.6,"y":0.3},{"s":"D","x":3.7,"y":0.2},{"s":"D","x":3.8,"y":0.5},{"s":"D","x":3.9,"y":0.3},{"s":"D","x":3.95,"y":0.6},
{"s":"E","x":-3,"y":0.1},{"s":"E","x":-2.75,"y":-0.2},{"s":"E","x":-2.5,"y":0.2},{"s":"E","x":-2.25,"y":-0.1},{"s":"E","x":-2,"y":0.3},{"s":"E","x":-1.75,"y":0.1},{"s":"E","x":-1.5,"y":0.3},{"s":"E","x":-1.25,"y":-0.2},{"s":"E","x":-1,"y":0.2},{"s":"E","x":-0.75,"y":0},{"s":"E","x":-0.5,"y":0.4},{"s":"E","x":-0.25,"y":0.2},{"s":"E","x":0,"y":-0.3},{"s":"E","x":0.25,"y":0.4},{"s":"E","x":0.5,"y":-0.2},{"s":"E","x":0.75,"y":0.1},{"s":"E","x":1,"y":0},{"s":"E","x":1.25,"y":0.5},
{"s":"E","x":1.5,"y":0.1},{"s":"E","x":1.75,"y":-0.2},{"s":"E","x":2,"y":-0.8},{"s":"E","x":2.2,"y":-1},{"s":"E","x":2.3,"y":-1.2},{"s":"E","x":2.4,"y":-2},{"s":"E","x":2.45,"y":-3},{"s":"E","x":2.5,"y":-4.5},{"s":"E","x":2.55,"y":-5.5},{"s":"E","x":2.6,"y":-6.3},{"s":"E","x":2.65,"y":-6},{"s":"E","x":2.7,"y":-5},{"s":"E","x":2.75,"y":-4.8},{"s":"E","x":2.8,"y":-4.5},{"s":"E","x":2.85,"y":-3},{"s":"E","x":2.9,"y":-2},{"s":"E","x":2.95,"y":-1},{"s":"E","x":3,"y":-0.5},{"s":"E","x":3.1,"y":-0.5},{"s":"E","x":3.2,"y":-0.7},{"s":"E","x":3.3,"y":-1.5},{"s":"E","x":3.4,"y":-1.2},{"s":"E","x":3.5,"y":-1},{"s":"E","x":3.6,"y":-0.8},{"s":"E","x":3.7,"y":-0.5},{"s":"E","x":3.8,"y":-0.4},{"s":"E","x":3.9,"y":-0.3},{"s":"E","x":3.95,"y":-0.3}
],
"d": [
{"s":"A","x":37.43,"y":-8},{"s":"A","x":37.46,"y":-9.6},{"s":"A","x":37.5,"y":-8.5},{"s":"A","x":37.55,"y":-7},{"s":"A","x":37.6,"y":-6},{"s":"A","x":37.65,"y":-5},{"s":"A","x":37.7,"y":-4},{"s":"A","x":37.75,"y":-3.2},{"s":"A","x":37.8,"y":-2.5},{"s":"A","x":37.85,"y":-2.4},{"s":"A","x":37.9,"y":-2.2},{"s":"A","x":38,"y":-2},{"s":"A","x":38.1,"y":-1.8},{"s":"A","x":38.2,"y":-1.5},{"s":"A","x":38.3,"y":-1},{"s":"A","x":38.4,"y":-0.6},{"s":"A","x":38.5,"y":0},
{"s":"A","x":38.75,"y":0},{"s":"A","x":39,"y":0.2},{"s":"A","x":39.25,"y":-0.4},{"s":"A","x":39.5,"y":-0.2},{"s":"A","x":39.75,"y":-0.3},{"s":"A","x":40,"y":0.3},{"s":"A","x":40.25,"y":0.5},{"s":"A","x":40.5,"y":-0.1},{"s":"A","x":40.75,"y":0},{"s":"A","x":41,"y":0.4},{"s":"A","x":41.25,"y":0.6},{"s":"A","x":41.5,"y":0.5},{"s":"A","x":41.75,"y":0.3},{"s":"A","x":42,"y":0.3},{"s":"A","x":42.25,"y":0.5},{"s":"A","x":42.5,"y":0.3},{"s":"A","x":42.75,"y":0.6},{"s":"A","x":42.9,"y":0.8},{"s":"A","x":43,"y":0.4},{"s":"A","x":43.25,"y":0.2},{"s":"A","x":43.5,"y":0.6},{"s":"A","x":43.75,"y":0.5},{"s":"A","x":44,"y":0.5},{"s":"A","x":44.15,"y":1},{"s":"A","x":44.33,"y":0.6},
{"s":"B","x":37.43,"y":-4},{"s":"B","x":37.46,"y":-4.5},{"s":"B","x":37.5,"y":-5.5},{"s":"B","x":37.55,"y":-6},{"s":"B","x":37.6,"y":-5},{"s":"B","x":37.65,"y":-3.8},{"s":"B","x":37.7,"y":-3},{"s":"B","x":37.75,"y":-2.2},{"s":"B","x":37.8,"y":-1.5},{"s":"B","x":37.85,"y":-1},{"s":"B","x":37.9,"y":-0.5},{"s":"B","x":38,"y":0.5},{"s":"B","x":38.1,"y":0.7},{"s":"B","x":38.2,"y":0.3},{"s":"B","x":38.3,"y":0.2},{"s":"B","x":38.4,"y":0.1},{"s":"B","x":38.5,"y":0.2},
{"s":"B","x":38.75,"y":0.4},{"s":"B","x":39,"y":0.4},{"s":"B","x":39.25,"y":-0.3},{"s":"B","x":39.5,"y":0.1},{"s":"B","x":39.75,"y":0.3},{"s":"B","x":40,"y":0.4},{"s":"B","x":40.25,"y":0.2},{"s":"B","x":40.5,"y":-0.2},{"s":"B","x":40.75,"y":0.3},{"s":"B","x":41,"y":0.2},{"s":"B","x":41.25,"y":0.3},{"s":"B","x":41.5,"y":0.6},{"s":"B","x":41.75,"y":0.3},{"s":"B","x":42,"y":0.3},{"s":"B","x":42.25,"y":0.4},{"s":"B","x":42.5,"y":0.3},{"s":"B","x":42.75,"y":0.5},{"s":"B","x":42.9,"y":0.8},{"s":"B","x":43,"y":0.3},{"s":"B","x":43.25,"y":0},{"s":"B","x":43.5,"y":0.4},{"s":"B","x":43.75,"y":0.4},{"s":"B","x":44,"y":0.4},{"s":"B","x":44.15,"y":0.6},{"s":"B","x":44.33,"y":0.4},
{"s":"C","x":37.43,"y":-5},{"s":"C","x":37.46,"y":-6},{"s":"C","x":37.5,"y":-6.5},{"s":"C","x":37.55,"y":-6},{"s":"C","x":37.6,"y":-5.5},{"s":"C","x":37.65,"y":-4},{"s":"C","x":37.7,"y":-3.5},{"s":"C","x":37.75,"y":-3},{"s":"C","x":37.8,"y":-2.5},{"s":"C","x":37.85,"y":-2.5},{"s":"C","x":37.9,"y":-2.3},{"s":"C","x":38,"y":-2},{"s":"C","x":38.1,"y":-1.8},{"s":"C","x":38.2,"y":-1.6},{"s":"C","x":38.3,"y":-1},{"s":"C","x":38.4,"y":-0.3},{"s":"C","x":38.5,"y":0},
{"s":"C","x":38.75,"y":0.3},{"s":"C","x":39,"y":0.5},{"s":"C","x":39.25,"y":-0.8},{"s":"C","x":39.5,"y":0},{"s":"C","x":39.75,"y":0.2},{"s":"C","x":40,"y":0.4},{"s":"C","x":40.25,"y":0.2},{"s":"C","x":40.5,"y":-0.3},{"s":"C","x":40.75,"y":0.3},{"s":"C","x":41,"y":0.1},{"s":"C","x":41.25,"y":0.2},{"s":"C","x":41.5,"y":0.7},{"s":"C","x":41.75,"y":0.3},{"s":"C","x":42,"y":0.3},{"s":"C","x":42.25,"y":0.4},{"s":"C","x":42.5,"y":0.4},{"s":"C","x":42.75,"y":0.5},{"s":"C","x":42.9,"y":0.9},{"s":"C","x":43,"y":0.3},{"s":"C","x":43.25,"y":-0.2},{"s":"C","x":43.5,"y":0.3},{"s":"C","x":43.75,"y":0.5},{"s":"C","x":44,"y":0.3},{"s":"C","x":44.15,"y":0.5},{"s":"C","x":44.33,"y":0.5},
{"s":"D","x":37.43,"y":-3},{"s":"D","x":37.46,"y":-2.8},{"s":"D","x":37.5,"y":-4.5},{"s":"D","x":37.55,"y":-5.5},{"s":"D","x":37.6,"y":-4},{"s":"D","x":37.65,"y":-3.5},{"s":"D","x":37.7,"y":-2.5},{"s":"D","x":37.75,"y":-2},{"s":"D","x":37.8,"y":-1},{"s":"D","x":37.85,"y":-0.5},{"s":"D","x":37.9,"y":0},{"s":"D","x":38,"y":0.6},{"s":"D","x":38.1,"y":0.8},{"s":"D","x":38.2,"y":0.3},{"s":"D","x":38.3,"y":0.5},{"s":"D","x":38.4,"y":0.4},{"s":"D","x":38.5,"y":0.3},
{"s":"D","x":38.75,"y":0.5},{"s":"D","x":39,"y":0.6},{"s":"D","x":39.25,"y":-0.4},{"s":"D","x":39.5,"y":0.1},{"s":"D","x":39.75,"y":0.3},{"s":"D","x":40,"y":0.4},{"s":"D","x":40.25,"y":0.2},{"s":"D","x":40.5,"y":-0.4},{"s":"D","x":40.75,"y":0.5},{"s":"D","x":41,"y":0.2},{"s":"D","x":41.25,"y":0.4},{"s":"D","x":41.5,"y":0.9},{"s":"D","x":41.75,"y":0.4},{"s":"D","x":42,"y":0.4},{"s":"D","x":42.25,"y":0.3},{"s":"D","x":42.5,"y":0.3},{"s":"D","x":42.75,"y":0.6},{"s":"D","x":42.9,"y":0.8},{"s":"D","x":43,"y":0.3},{"s":"D","x":43.25,"y":-0.1},{"s":"D","x":43.5,"y":0.3},{"s":"D","x":43.75,"y":0.4},{"s":"D","x":44,"y":0.3},{"s":"D","x":44.15,"y":0.6},{"s":"D","x":44.33,"y":0.5},
{"s":"E","x":37.43,"y":-7},{"s":"E","x":37.46,"y":-7.2},{"s":"E","x":37.5,"y":-6.5},{"s":"E","x":37.55,"y":-6},{"s":"E","x":37.6,"y":-5},{"s":"E","x":37.65,"y":-4.2},{"s":"E","x":37.7,"y":-3.5},{"s":"E","x":37.75,"y":-2.8},{"s":"E","x":37.8,"y":-2},{"s":"E","x":37.85,"y":-1.7},{"s":"E","x":37.9,"y":-1.5},{"s":"E","x":38,"y":-0.6},{"s":"E","x":38.1,"y":-0.3},{"s":"E","x":38.2,"y":-0.1},{"s":"E","x":38.3,"y":0.3},{"s":"E","x":38.4,"y":0.4},{"s":"E","x":38.5,"y":0.1},
{"s":"E","x":38.75,"y":0.2},{"s":"E","x":39,"y":0.5},{"s":"E","x":39.25,"y":-0.6},{"s":"E","x":39.5,"y":0},{"s":"E","x":39.75,"y":0.3},{"s":"E","x":40,"y":0.3},{"s":"E","x":40.25,"y":0.1},{"s":"E","x":40.5,"y":-0.6},{"s":"E","x":40.75,"y":0.4},{"s":"E","x":41,"y":0.1},{"s":"E","x":41.25,"y":0.3},{"s":"E","x":41.5,"y":0.7},{"s":"E","x":41.75,"y":0.2},{"s":"E","x":42,"y":0.4},{"s":"E","x":42.25,"y":0.3},{"s":"E","x":42.5,"y":0.2},{"s":"E","x":42.75,"y":0.5},{"s":"E","x":42.9,"y":0.9},{"s":"E","x":43,"y":0.2},{"s":"E","x":43.25,"y":-0.3},{"s":"E","x":43.5,"y":0.1},{"s":"E","x":43.75,"y":0.3},{"s":"E","x":44,"y":0.2},{"s":"E","x":44.15,"y":0.5},{"s":"E","x":44.33,"y":0.4}
],
"e": [
{"s":"A","x":-3,"y":0.3},{"s":"A","x":-2.75,"y":-0.4},{"s":"A","x":-2.5,"y":0.4},{"s":"A","x":-2.25,"y":-0.6},{"s":"A","x":-2,"y":0.1},{"s":"A","x":-1.75,"y":-0.3},{"s":"A","x":-1.5,"y":-0.3},{"s":"A","x":-1.25,"y":0.3},{"s":"A","x":-1,"y":-0.5},{"s":"A","x":-0.75,"y":0.4},{"s":"A","x":-0.5,"y":0.4},{"s":"A","x":-0.25,"y":0.3},{"s":"A","x":0,"y":-1.2},{"s":"A","x":0.25,"y":0.1},{"s":"A","x":0.5,"y":1},{"s":"A","x":0.75,"y":-0.2},{"s":"A","x":1,"y":0.6},
{"s":"A","x":1.1,"y":0.5},{"s":"A","x":1.2,"y":0.3},{"s":"A","x":1.3,"y":0.6},{"s":"A","x":1.4,"y":1},{"s":"A","x":1.5,"y":1.2},{"s":"A","x":1.6,"y":0.8},{"s":"A","x":1.7,"y":1},{"s":"A","x":1.8,"y":0.5},{"s":"A","x":1.9,"y":0.8},{"s":"A","x":2,"y":2.5},{"s":"A","x":2.05,"y":3},{"s":"A","x":2.1,"y":3.3},{"s":"A","x":2.15,"y":3.6},{"s":"A","x":2.2,"y":4.5},{"s":"A","x":2.25,"y":5},{"s":"A","x":2.3,"y":5.8},{"s":"A","x":2.35,"y":6},{"s":"A","x":2.4,"y":4.5},{"s":"A","x":2.45,"y":4},{"s":"A","x":2.5,"y":3},{"s":"A","x":2.55,"y":3},{"s":"A","x":2.6,"y":4},{"s":"A","x":2.65,"y":5.5},{"s":"A","x":2.7,"y":7},{"s":"A","x":2.75,"y":5},{"s":"A","x":2.8,"y":4},{"s":"A","x":2.85,"y":2.8},{"s":"A","x":2.9,"y":2.5},{"s":"A","x":2.95,"y":1},{"s":"A","x":3,"y":-1},{"s":"A","x":3.05,"y":-2},{"s":"A","x":3.1,"y":-2.3},{"s":"A","x":3.15,"y":-2.5},{"s":"A","x":3.2,"y":-2.5},{"s":"A","x":3.25,"y":-3},{"s":"A","x":3.3,"y":-2.8},{"s":"A","x":3.35,"y":-1.5},{"s":"A","x":3.4,"y":-0.5},{"s":"A","x":3.5,"y":0},{"s":"A","x":3.6,"y":-0.2},{"s":"A","x":3.7,"y":0.2},{"s":"A","x":3.8,"y":0.5},{"s":"A","x":3.85,"y":-0.3},{"s":"A","x":3.9,"y":0},{"s":"A","x":3.95,"y":-0.5},
{"s":"B","x":-3,"y":0.1},{"s":"B","x":-2.75,"y":0.2},{"s":"B","x":-2.5,"y":0.3},{"s":"B","x":-2.25,"y":-0.1},{"s":"B","x":-2,"y":0.1},{"s":"B","x":-1.75,"y":0.1},{"s":"B","x":-1.5,"y":-0.4},{"s":"B","x":-1.25,"y":0.2},{"s":"B","x":-1,"y":0.1},{"s":"B","x":-0.75,"y":0.4},{"s":"B","x":-0.5,"y":0.4},{"s":"B","x":-0.25,"y":0.2},{"s":"B","x":0,"y":-0.5},{"s":"B","x":0.25,"y":0.3},{"s":"B","x":0.5,"y":0.5},{"s":"B","x":0.75,"y":0.2},{"s":"B","x":1,"y":0.5},
{"s":"B","x":1.1,"y":0.3},{"s":"B","x":1.2,"y":0.2},{"s":"B","x":1.3,"y":0.4},{"s":"B","x":1.4,"y":0.3},{"s":"B","x":1.5,"y":0.5},{"s":"B","x":1.6,"y":0.2},{"s":"B","x":1.7,"y":0.3},{"s":"B","x":1.8,"y":0.1},{"s":"B","x":1.9,"y":0.5},{"s":"B","x":2,"y":0.6},{"s":"B","x":2.05,"y":1.5},{"s":"B","x":2.1,"y":2.5},{"s":"B","x":2.15,"y":2},{"s":"B","x":2.2,"y":1.5},{"s":"B","x":2.25,"y":0.5},{"s":"B","x":2.3,"y":-1},{"s":"B","x":2.35,"y":-1},{"s":"B","x":2.4,"y":-1},{"s":"B","x":2.45,"y":-0.8},{"s":"B","x":2.5,"y":-1},{"s":"B","x":2.55,"y":-0.8},{"s":"B","x":2.6,"y":-0.8},{"s":"B","x":2.65,"y":0},{"s":"B","x":2.7,"y":1},{"s":"B","x":2.75,"y":1.5},{"s":"B","x":2.8,"y":2},{"s":"B","x":2.85,"y":1},{"s":"B","x":2.9,"y":0.5},{"s":"B","x":2.95,"y":-0.5},{"s":"B","x":3,"y":-1},{"s":"B","x":3.05,"y":-1.3},{"s":"B","x":3.1,"y":-1.5},{"s":"B","x":3.15,"y":-0.5},{"s":"B","x":3.2,"y":1},{"s":"B","x":3.25,"y":2},{"s":"B","x":3.3,"y":2.5},{"s":"B","x":3.35,"y":2},{"s":"B","x":3.4,"y":1.5},{"s":"B","x":3.5,"y":1.5},{"s":"B","x":3.6,"y":1.5},{"s":"B","x":3.7,"y":1},{"s":"B","x":3.8,"y":1.5},{"s":"B","x":3.85,"y":2},{"s":"B","x":3.9,"y":2},{"s":"B","x":3.95,"y":1.5},
{"s":"C","x":-3,"y":0},{"s":"C","x":-2.75,"y":0.2},{"s":"C","x":-2.5,"y":0.3},{"s":"C","x":-2.25,"y":0},{"s":"C","x":-2,"y":0.1},{"s":"C","x":-1.75,"y":0},{"s":"C","x":-1.5,"y":-0.3},{"s":"C","x":-1.25,"y":0.2},{"s":"C","x":-1,"y":-0.2},{"s":"C","x":-0.75,"y":0.2},{"s":"C","x":-0.5,"y":0.3},{"s":"C","x":-0.25,"y":0.1},{"s":"C","x":0,"y":-0.6},{"s":"C","x":0.25,"y":0.3},{"s":"C","x":0.5,"y":0.6},{"s":"C","x":0.75,"y":0.3},{"s":"C","x":1,"y":0.2},
{"s":"C","x":1.1,"y":-0.5},{"s":"C","x":1.2,"y":-0.3},{"s":"C","x":1.3,"y":0},{"s":"C","x":1.4,"y":-0.3},{"s":"C","x":1.5,"y":-0.5},{"s":"C","x":1.6,"y":-1},{"s":"C","x":1.7,"y":-0.8},{"s":"C","x":1.8,"y":-0.5},{"s":"C","x":1.9,"y":-0.5},{"s":"C","x":2,"y":0.5},{"s":"C","x":2.05,"y":1},{"s":"C","x":2.1,"y":2},{"s":"C","x":2.15,"y":3},{"s":"C","x":2.2,"y":3},{"s":"C","x":2.25,"y":2.5},{"s":"C","x":2.3,"y":2},{"s":"C","x":2.35,"y":2.5},{"s":"C","x":2.4,"y":3.5},{"s":"C","x":2.45,"y":4},{"s":"C","x":2.5,"y":6},{"s":"C","x":2.55,"y":8},{"s":"C","x":2.6,"y":7.2},{"s":"C","x":2.65,"y":6},{"s":"C","x":2.7,"y":5},{"s":"C","x":2.75,"y":5.5},{"s":"C","x":2.8,"y":7},{"s":"C","x":2.85,"y":9},{"s":"C","x":2.9,"y":10.5},{"s":"C","x":2.95,"y":9},{"s":"C","x":3,"y":8},{"s":"C","x":3.05,"y":6.5},{"s":"C","x":3.1,"y":6.3},{"s":"C","x":3.15,"y":6},{"s":"C","x":3.2,"y":6},{"s":"C","x":3.25,"y":3},{"s":"C","x":3.3,"y":2},{"s":"C","x":3.35,"y":1},{"s":"C","x":3.4,"y":1.5},{"s":"C","x":3.5,"y":2},{"s":"C","x":3.6,"y":0.5},{"s":"C","x":3.7,"y":-0.5},{"s":"C","x":3.8,"y":0},{"s":"C","x":3.85,"y":-0.5},{"s":"C","x":3.9,"y":-0.3},{"s":"C","x":3.95,"y":0.5},
{"s":"D","x":-3,"y":0.1},{"s":"D","x":-2.75,"y":0.3},{"s":"D","x":-2.5,"y":0.4},{"s":"D","x":-2.25,"y":-0.1},{"s":"D","x":-2,"y":0.2},{"s":"D","x":-1.75,"y":0},{"s":"D","x":-1.5,"y":-0.5},{"s":"D","x":-1.25,"y":0.2},{"s":"D","x":-1,"y":0},{"s":"D","x":-0.75,"y":0.2},{"s":"D","x":-0.5,"y":0.2},{"s":"D","x":-0.25,"y":0.3},{"s":"D","x":0,"y":-0.8},{"s":"D","x":0.25,"y":0.3},{"s":"D","x":0.5,"y":0.6},{"s":"D","x":0.75,"y":0.4},{"s":"D","x":1,"y":0.6},
{"s":"D","x":1.1,"y":1},{"s":"D","x":1.2,"y":1.2},{"s":"D","x":1.3,"y":1.5},{"s":"D","x":1.4,"y":1.5},{"s":"D","x":1.5,"y":1.8},{"s":"D","x":1.6,"y":2},{"s":"D","x":1.7,"y":1.8},{"s":"D","x":1.8,"y":2},{"s":"D","x":1.9,"y":2},{"s":"D","x":2,"y":2.5},{"s":"D","x":2.05,"y":3.5},{"s":"D","x":2.1,"y":3.2},{"s":"D","x":2.15,"y":3},{"s":"D","x":2.2,"y":3},{"s":"D","x":2.25,"y":3.5},{"s":"D","x":2.3,"y":2.5},{"s":"D","x":2.35,"y":1.5},{"s":"D","x":2.4,"y":1},{"s":"D","x":2.45,"y":0.5},{"s":"D","x":2.5,"y":-0.5},{"s":"D","x":2.55,"y":-1},{"s":"D","x":2.6,"y":-1.5},{"s":"D","x":2.65,"y":-0.5},{"s":"D","x":2.7,"y":1},{"s":"D","x":2.75,"y":2.5},{"s":"D","x":2.8,"y":3},{"s":"D","x":2.85,"y":2.5},{"s":"D","x":2.9,"y":2},{"s":"D","x":2.95,"y":1.5},{"s":"D","x":3,"y":0.5},{"s":"D","x":3.05,"y":-0.5},{"s":"D","x":3.1,"y":0.5},{"s":"D","x":3.15,"y":2},{"s":"D","x":3.2,"y":3},{"s":"D","x":3.25,"y":2.5},{"s":"D","x":3.3,"y":2},{"s":"D","x":3.35,"y":1.5},{"s":"D","x":3.4,"y":1},{"s":"D","x":3.5,"y":2},{"s":"D","x":3.6,"y":2},{"s":"D","x":3.7,"y":1},{"s":"D","x":3.8,"y":2},{"s":"D","x":3.85,"y":3},{"s":"D","x":3.9,"y":3},{"s":"D","x":3.95,"y":2.5},
{"s":"E","x":-3,"y":0},{"s":"E","x":-2.75,"y":0.4},{"s":"E","x":-2.5,"y":0.5},{"s":"E","x":-2.25,"y":0},{"s":"E","x":-2,"y":0.2},{"s":"E","x":-1.75,"y":0},{"s":"E","x":-1.5,"y":-1},{"s":"E","x":-1.25,"y":0.1},{"s":"E","x":-1,"y":-0.1},{"s":"E","x":-0.75,"y":0.2},{"s":"E","x":-0.5,"y":0.3},{"s":"E","x":-0.25,"y":0.2},{"s":"E","x":0,"y":-0.9},{"s":"E","x":0.25,"y":0.4},{"s":"E","x":0.5,"y":0.7},{"s":"E","x":0.75,"y":0.5},{"s":"E","x":1,"y":1},
{"s":"E","x":1.1,"y":0.4},{"s":"E","x":1.2,"y":0.5},{"s":"E","x":1.3,"y":0.8},{"s":"E","x":1.4,"y":1},{"s":"E","x":1.5,"y":1},{"s":"E","x":1.6,"y":0.8},{"s":"E","x":1.7,"y":1},{"s":"E","x":1.8,"y":0.5},{"s":"E","x":1.9,"y":0.8},{"s":"E","x":2,"y":1.5},{"s":"E","x":2.05,"y":2.5},{"s":"E","x":2.1,"y":3.5},{"s":"E","x":2.15,"y":3.2},{"s":"E","x":2.2,"y":2.8},{"s":"E","x":2.25,"y":2.5},{"s":"E","x":2.3,"y":2.5},{"s":"E","x":2.35,"y":2.8},{"s":"E","x":2.4,"y":3},{"s":"E","x":2.45,"y":3},{"s":"E","x":2.5,"y":4},{"s":"E","x":2.55,"y":5},{"s":"E","x":2.6,"y":4.5},{"s":"E","x":2.65,"y":4},{"s":"E","x":2.7,"y":5.5},{"s":"E","x":2.75,"y":7},{"s":"E","x":2.8,"y":8.5},{"s":"E","x":2.85,"y":10},{"s":"E","x":2.9,"y":11},{"s":"E","x":2.95,"y":9},{"s":"E","x":3,"y":6},{"s":"E","x":3.05,"y":3},{"s":"E","x":3.1,"y":1.5},{"s":"E","x":3.15,"y":1},{"s":"E","x":3.2,"y":2},{"s":"E","x":3.25,"y":6},{"s":"E","x":3.3,"y":4.5},{"s":"E","x":3.35,"y":3},{"s":"E","x":3.4,"y":2.5},{"s":"E","x":3.5,"y":2},{"s":"E","x":3.6,"y":1.5},{"s":"E","x":3.7,"y":1},{"s":"E","x":3.8,"y":1},{"s":"E","x":3.85,"y":1.5},{"s":"E","x":3.9,"y":2},{"s":"E","x":3.95,"y":2.5}
],
"f": [
{"s":"A","x":37.43,"y":9},{"s":"A","x":37.47,"y":10},{"s":"A","x":37.5,"y":9},{"s":"A","x":37.55,"y":8},{"s":"A","x":37.6,"y":7},{"s":"A","x":37.65,"y":6},{"s":"A","x":37.7,"y":5},{"s":"A","x":37.75,"y":4.2},{"s":"A","x":37.8,"y":3.5},{"s":"A","x":37.85,"y":3},{"s":"A","x":37.9,"y":2},{"s":"A","x":37.95,"y":1.2},{"s":"A","x":38,"y":0.6},{"s":"A","x":38.05,"y":0.3},{"s":"A","x":38.1,"y":0.5},{"s":"A","x":38.2,"y":1},{"s":"A","x":38.3,"y":1.2},{"s":"A","x":38.4,"y":1.5},{"s":"A","x":38.5,"y":1},{"s":"A","x":38.6,"y":0.5},{"s":"A","x":38.7,"y":0.7},{"s":"A","x":38.8,"y":0.2},{"s":"A","x":38.9,"y":0},{"s":"A","x":39,"y":-0.3},{"s":"A","x":39.1,"y":-0.5},{"s":"A","x":39.2,"y":-0.8},{"s":"A","x":39.3,"y":-1},{"s":"A","x":39.4,"y":-1.3},{"s":"A","x":39.5,"y":-2},{"s":"A","x":39.6,"y":-1},
{"s":"A","x":39.75,"y":-0.5},{"s":"A","x":40,"y":-0.2},{"s":"A","x":40.25,"y":0},{"s":"A","x":40.5,"y":-0.8},{"s":"A","x":40.75,"y":0.3},{"s":"A","x":41,"y":0},{"s":"A","x":41.25,"y":0.2},{"s":"A","x":41.5,"y":0.6},{"s":"A","x":41.75,"y":0.2},{"s":"A","x":42,"y":-0.3},{"s":"A","x":42.25,"y":0.2},{"s":"A","x":42.5,"y":0},{"s":"A","x":42.75,"y":0.3},{"s":"A","x":43,"y":-0.2},{"s":"A","x":43.25,"y":0.6},{"s":"A","x":43.5,"y":-0.3},{"s":"A","x":43.75,"y":0.4},{"s":"A","x":44,"y":-0.5},{"s":"A","x":44.15,"y":0.2},{"s":"A","x":44.33,"y":-0.2},
{"s":"B","x":37.43,"y":2.5},{"s":"B","x":37.47,"y":0},{"s":"B","x":37.5,"y":-0.5},{"s":"B","x":37.55,"y":-1.2},{"s":"B","x":37.6,"y":-1.5},{"s":"B","x":37.65,"y":-1.3},{"s":"B","x":37.7,"y":-1},{"s":"B","x":37.75,"y":-0.8},{"s":"B","x":37.8,"y":-0.5},{"s":"B","x":37.85,"y":0},{"s":"B","x":37.9,"y":-0.2},{"s":"B","x":37.95,"y":-0.5},{"s":"B","x":38,"y":-0.3},{"s":"B","x":38.05,"y":0},{"s":"B","x":38.1,"y":0.2},{"s":"B","x":38.2,"y":0.5},{"s":"B","x":38.3,"y":0.3},{"s":"B","x":38.4,"y":0.8},{"s":"B","x":38.5,"y":0.5},{"s":"B","x":38.6,"y":0.6},{"s":"B","x":38.7,"y":0.4},{"s":"B","x":38.8,"y":0.3},{"s":"B","x":38.9,"y":0},{"s":"B","x":39,"y":-0.2},{"s":"B","x":39.1,"y":0},{"s":"B","x":39.2,"y":-0.5},{"s":"B","x":39.3,"y":-0.3},{"s":"B","x":39.4,"y":-0.5},{"s":"B","x":39.5,"y":-1},{"s":"B","x":39.6,"y":-0.3},
{"s":"B","x":39.75,"y":-0.2},{"s":"B","x":40,"y":0},{"s":"B","x":40.25,"y":-0.3},{"s":"B","x":40.5,"y":0.2},{"s":"B","x":40.75,"y":0.4},{"s":"B","x":41,"y":-0.1},{"s":"B","x":41.25,"y":0.1},{"s":"B","x":41.5,"y":0.3},{"s":"B","x":41.75,"y":0},{"s":"B","x":42,"y":-0.3},{"s":"B","x":42.25,"y":0.3},{"s":"B","x":42.5,"y":0.2},{"s":"B","x":42.75,"y":0},{"s":"B","x":43,"y":-0.2},{"s":"B","x":43.25,"y":0.2},{"s":"B","x":43.5,"y":0.2},{"s":"B","x":43.75,"y":0.3},{"s":"B","x":44,"y":-0.4},{"s":"B","x":44.15,"y":0},{"s":"B","x":44.33,"y":0},
{"s":"C","x":37.43,"y":9},{"s":"C","x":37.47,"y":10.5},{"s":"C","x":37.5,"y":9.5},{"s":"C","x":37.55,"y":8},{"s":"C","x":37.6,"y":6.5},{"s":"C","x":37.65,"y":5},{"s":"C","x":37.7,"y":3.5},{"s":"C","x":37.75,"y":2},{"s":"C","x":37.8,"y":1},{"s":"C","x":37.85,"y":0},{"s":"C","x":37.9,"y":-0.5},{"s":"C","x":37.95,"y":-1.5},{"s":"C","x":38,"y":-2},{"s":"C","x":38.05,"y":-2.6},{"s":"C","x":38.1,"y":-2},{"s":"C","x":38.2,"y":-1},{"s":"C","x":38.3,"y":-0.5},{"s":"C","x":38.4,"y":0},{"s":"C","x":38.5,"y":1},{"s":"C","x":38.6,"y":0.7},{"s":"C","x":38.7,"y":0.5},{"s":"C","x":38.8,"y":0.5},{"s":"C","x":38.9,"y":0.2},{"s":"C","x":39,"y":0},{"s":"C","x":39.1,"y":-0.3},{"s":"C","x":39.2,"y":-0.2},{"s":"C","x":39.3,"y":-0.5},{"s":"C","x":39.4,"y":-0.8},{"s":"C","x":39.5,"y":-1},{"s":"C","x":39.6,"y":-0.5},
{"s":"C","x":39.75,"y":-0.3},{"s":"C","x":40,"y":0.1},{"s":"C","x":40.25,"y":-0.4},{"s":"C","x":40.5,"y":0.3},{"s":"C","x":40.75,"y":0.6},{"s":"C","x":41,"y":-0.1},{"s":"C","x":41.25,"y":0.2},{"s":"C","x":41.5,"y":0.4},{"s":"C","x":41.75,"y":0.1},{"s":"C","x":42,"y":-0.3},{"s":"C","x":42.25,"y":0.4},{"s":"C","x":42.5,"y":0.2},{"s":"C","x":42.75,"y":0.1},{"s":"C","x":43,"y":-0.2},{"s":"C","x":43.25,"y":0.3},{"s":"C","x":43.5,"y":0.3},{"s":"C","x":43.75,"y":0.6},{"s":"C","x":44,"y":-0.3},{"s":"C","x":44.15,"y":0},{"s":"C","x":44.33,"y":0.1},
{"s":"D","x":37.43,"y":2},{"s":"D","x":37.47,"y":0},{"s":"D","x":37.5,"y":1.5},{"s":"D","x":37.55,"y":3.5},{"s":"D","x":37.6,"y":4.2},{"s":"D","x":37.65,"y":2},{"s":"D","x":37.7,"y":0},{"s":"D","x":37.75,"y":-1},{"s":"D","x":37.8,"y":-1.5},{"s":"D","x":37.85,"y":-2},{"s":"D","x":37.9,"y":-1.8},{"s":"D","x":37.95,"y":-1.5},{"s":"D","x":38,"y":-1.5},{"s":"D","x":38.05,"y":-0.8},{"s":"D","x":38.1,"y":0},{"s":"D","x":38.2,"y":0.5},{"s":"D","x":38.3,"y":-0.5},{"s":"D","x":38.4,"y":-0.3},{"s":"D","x":38.5,"y":-0.8},{"s":"D","x":38.6,"y":-1},{"s":"D","x":38.7,"y":-0.8},{"s":"D","x":38.8,"y":-1},{"s":"D","x":38.9,"y":-1.2},{"s":"D","x":39,"y":-1.5},{"s":"D","x":39.1,"y":-1.3},{"s":"D","x":39.2,"y":-1.5},{"s":"D","x":39.3,"y":-1.5},{"s":"D","x":39.4,"y":-1.4},{"s":"D","x":39.5,"y":-1.6},{"s":"D","x":39.6,"y":-1.2},
{"s":"D","x":39.75,"y":-0.8},{"s":"D","x":40,"y":-0.3},{"s":"D","x":40.25,"y":-0.8},{"s":"D","x":40.5,"y":0.1},{"s":"D","x":40.75,"y":0.3},{"s":"D","x":41,"y":-0.3},{"s":"D","x":41.25,"y":0},{"s":"D","x":41.5,"y":0.3},{"s":"D","x":41.75,"y":0},{"s":"D","x":42,"y":-0.4},{"s":"D","x":42.25,"y":0.3},{"s":"D","x":42.5,"y":0.1},{"s":"D","x":42.75,"y":-0.1},{"s":"D","x":43,"y":-0.4},{"s":"D","x":43.25,"y":0.1},{"s":"D","x":43.5,"y":0},{"s":"D","x":43.75,"y":0.2},{"s":"D","x":44,"y":-0.5},{"s":"D","x":44.15,"y":-0.2},{"s":"D","x":44.33,"y":-0.1},
{"s":"E","x":37.43,"y":6.8},{"s":"E","x":37.47,"y":4.5},{"s":"E","x":37.5,"y":4},{"s":"E","x":37.55,"y":4.8},{"s":"E","x":37.6,"y":5.2},{"s":"E","x":37.65,"y":4},{"s":"E","x":37.7,"y":3},{"s":"E","x":37.75,"y":2.2},{"s":"E","x":37.8,"y":1.5},{"s":"E","x":37.85,"y":1},{"s":"E","x":37.9,"y":0.5},{"s":"E","x":37.95,"y":0},{"s":"E","x":38,"y":-0.2},{"s":"E","x":38.05,"y":0.3},{"s":"E","x":38.1,"y":0.5},{"s":"E","x":38.2,"y":0.8},{"s":"E","x":38.3,"y":1},{"s":"E","x":38.4,"y":1.2},{"s":"E","x":38.5,"y":1.5},{"s":"E","x":38.6,"y":1.2},{"s":"E","x":38.7,"y":1},{"s":"E","x":38.8,"y":1.2},{"s":"E","x":38.9,"y":0.5},{"s":"E","x":39,"y":0},{"s":"E","x":39.1,"y":0.3},{"s":"E","x":39.2,"y":-0.2},{"s":"E","x":39.3,"y":0},{"s":"E","x":39.4,"y":-0.5},{"s":"E","x":39.5,"y":-0.8},{"s":"E","x":39.6,"y":-0.6},
{"s":"E","x":39.75,"y":-0.3},{"s":"E","x":40,"y":0.2},{"s":"E","x":40.25,"y":-0.6},{"s":"E","x":40.5,"y":0.3},{"s":"E","x":40.75,"y":0.5},{"s":"E","x":41,"y":-0.2},{"s":"E","x":41.25,"y":0.2},{"s":"E","x":41.5,"y":0.3},{"s":"E","x":41.75,"y":0},{"s":"E","x":42,"y":-0.4},{"s":"E","x":42.25,"y":0.5},{"s":"E","x":42.5,"y":0.3},{"s":"E","x":42.75,"y":0},{"s":"E","x":43,"y":-0.3},{"s":"E","x":43.25,"y":0.2},{"s":"E","x":43.5,"y":0.3},{"s":"E","x":43.75,"y":0.4},{"s":"E","x":44,"y":-0.6},{"s":"E","x":44.15,"y":-0.2},{"s":"E","x":44.33,"y":0}
],
"g": [
{"s":"A","x":-3,"y":-0.5},{"s":"A","x":-2.75,"y":-0.6},{"s":"A","x":-2.5,"y":0},{"s":"A","x":-2.25,"y":0.2},{"s":"A","x":-2,"y":-0.3},{"s":"A","x":-1.75,"y":0},{"s":"A","x":-1.5,"y":-0.1},{"s":"A","x":-1.25,"y":0.1},{"s":"A","x":-1,"y":0},{"s":"A","x":-0.75,"y":0.3},{"s":"A","x":-0.6,"y":0.8},{"s":"A","x":-0.5,"y":0.3},{"s":"A","x":-0.25,"y":0.3},
{"s":"A","x":0,"y":0},{"s":"A","x":0.15,"y":0.2},{"s":"A","x":0.3,"y":0.3},{"s":"A","x":0.45,"y":0.1},{"s":"A","x":0.6,"y":0.2},{"s":"A","x":0.7,"y":0.1},{"s":"A","x":0.8,"y":0.3},{"s":"A","x":0.9,"y":0.2},{"s":"A","x":1,"y":0.2},{"s":"A","x":1.1,"y":0.1},{"s":"A","x":1.2,"y":0.3},{"s":"A","x":1.3,"y":0.4},{"s":"A","x":1.4,"y":0.5},{"s":"A","x":1.45,"y":1},{"s":"A","x":1.5,"y":1.5},{"s":"A","x":1.55,"y":1.2},{"s":"A","x":1.6,"y":1},{"s":"A","x":1.7,"y":1.5},{"s":"A","x":1.8,"y":1.5},{"s":"A","x":1.85,"y":1.8},{"s":"A","x":1.9,"y":2},{"s":"A","x":2,"y":2},{"s":"A","x":2.1,"y":2.2},{"s":"A","x":2.2,"y":2},{"s":"A","x":2.3,"y":2.5},{"s":"A","x":2.35,"y":2.3},{"s":"A","x":2.4,"y":2},{"s":"A","x":2.45,"y":2.5},{"s":"A","x":2.5,"y":3},{"s":"A","x":2.55,"y":4},{"s":"A","x":2.6,"y":2},{"s":"A","x":2.65,"y":5},{"s":"A","x":2.7,"y":9.5},{"s":"A","x":2.75,"y":1.5},{"s":"A","x":2.8,"y":5},{"s":"A","x":2.85,"y":2},{"s":"A","x":2.9,"y":3},{"s":"A","x":2.95,"y":3.5},{"s":"A","x":3,"y":5},{"s":"A","x":3.05,"y":5},{"s":"A","x":3.1,"y":4.8},{"s":"A","x":3.15,"y":3.5},{"s":"A","x":3.2,"y":3},{"s":"A","x":3.3,"y":2},{"s":"A","x":3.4,"y":1.5},{"s":"A","x":3.5,"y":1},{"s":"A","x":3.6,"y":2},{"s":"A","x":3.7,"y":1.5},{"s":"A","x":3.8,"y":1},{"s":"A","x":3.85,"y":0.8},{"s":"A","x":3.9,"y":0.5},{"s":"A","x":3.95,"y":1},
{"s":"B","x":-3,"y":-0.2},{"s":"B","x":-2.75,"y":-0.2},{"s":"B","x":-2.5,"y":0},{"s":"B","x":-2.25,"y":0.1},{"s":"B","x":-2,"y":0},{"s":"B","x":-1.75,"y":0.1},{"s":"B","x":-1.5,"y":0},{"s":"B","x":-1.25,"y":0},{"s":"B","x":-1,"y":0.1},{"s":"B","x":-0.75,"y":0.1},{"s":"B","x":-0.6,"y":0.4},{"s":"B","x":-0.5,"y":0.3},{"s":"B","x":-0.25,"y":0.2},
{"s":"B","x":0,"y":0},{"s":"B","x":0.15,"y":0.1},{"s":"B","x":0.3,"y":0.2},{"s":"B","x":0.45,"y":0.1},{"s":"B","x":0.6,"y":0.2},{"s":"B","x":0.7,"y":0.1},{"s":"B","x":0.8,"y":0.3},{"s":"B","x":0.9,"y":0.2},{"s":"B","x":1,"y":0.2},{"s":"B","x":1.1,"y":0.2},{"s":"B","x":1.2,"y":0.1},{"s":"B","x":1.3,"y":0.2},{"s":"B","x":1.4,"y":0.3},{"s":"B","x":1.45,"y":0.2},{"s":"B","x":1.5,"y":0.3},{"s":"B","x":1.55,"y":0.3},{"s":"B","x":1.6,"y":0.2},{"s":"B","x":1.7,"y":0.4},{"s":"B","x":1.8,"y":0.3},{"s":"B","x":1.85,"y":0.3},{"s":"B","x":1.9,"y":0.2},{"s":"B","x":2,"y":-0.3},{"s":"B","x":2.1,"y":-0.5},{"s":"B","x":2.2,"y":0.5},{"s":"B","x":2.3,"y":1.5},{"s":"B","x":2.35,"y":2},{"s":"B","x":2.4,"y":1.5},{"s":"B","x":2.45,"y":-0.5},{"s":"B","x":2.5,"y":-1},{"s":"B","x":2.55,"y":-2},{"s":"B","x":2.6,"y":-2.5},{"s":"B","x":2.65,"y":-3},{"s":"B","x":2.7,"y":-3.5},{"s":"B","x":2.75,"y":-2.5},{"s":"B","x":2.8,"y":-2},{"s":"B","x":2.85,"y":-1},{"s":"B","x":2.9,"y":-1},{"s":"B","x":2.95,"y":1},{"s":"B","x":3,"y":2.5},{"s":"B","x":3.05,"y":3},{"s":"B","x":3.1,"y":4},{"s":"B","x":3.15,"y":3.5},{"s":"B","x":3.2,"y":3},{"s":"B","x":3.3,"y":5.5},{"s":"B","x":3.4,"y":3},{"s":"B","x":3.5,"y":3.5},{"s":"B","x":3.6,"y":2},{"s":"B","x":3.7,"y":1.5},{"s":"B","x":3.8,"y":1},{"s":"B","x":3.85,"y":0.8},{"s":"B","x":3.9,"y":0.5},{"s":"B","x":3.95,"y":4},
{"s":"C","x":-3,"y":0},{"s":"C","x":-2.75,"y":-0.2},{"s":"C","x":-2.5,"y":0.1},{"s":"C","x":-2.25,"y":0.2},{"s":"C","x":-2,"y":0.3},{"s":"C","x":-1.75,"y":0},{"s":"C","x":-1.5,"y":0.1},{"s":"C","x":-1.25,"y":0.1},{"s":"C","x":-1,"y":0},{"s":"C","x":-0.75,"y":0.1},{"s":"C","x":-0.6,"y":0.4},{"s":"C","x":-0.5,"y":0.2},{"s":"C","x":-0.25,"y":0.2},
{"s":"C","x":0,"y":0.5},{"s":"C","x":0.15,"y":0.8},{"s":"C","x":0.3,"y":1},{"s":"C","x":0.45,"y":0.8},{"s":"C","x":0.6,"y":0.5},{"s":"C","x":0.7,"y":0.8},{"s":"C","x":0.8,"y":3},{"s":"C","x":0.9,"y":6},{"s":"C","x":1,"y":5.2},{"s":"C","x":1.1,"y":4},{"s":"C","x":1.2,"y":3},{"s":"C","x":1.3,"y":3.5},{"s":"C","x":1.4,"y":4.5},{"s":"C","x":1.45,"y":7},{"s":"C","x":1.5,"y":9.5},{"s":"C","x":1.55,"y":11},{"s":"C","x":1.6,"y":10},{"s":"C","x":1.7,"y":9.5},{"s":"C","x":1.8,"y":9.5},{"s":"C","x":1.85,"y":8},{"s":"C","x":1.9,"y":6.5},{"s":"C","x":2,"y":5.5},{"s":"C","x":2.1,"y":4},{"s":"C","x":2.2,"y":3.8},{"s":"C","x":2.3,"y":3.5},{"s":"C","x":2.35,"y":3},{"s":"C","x":2.4,"y":2.5},{"s":"C","x":2.45,"y":2},{"s":"C","x":2.5,"y":1},{"s":"C","x":2.55,"y":0.5},{"s":"C","x":2.6,"y":0},{"s":"C","x":2.65,"y":-0.5},{"s":"C","x":2.7,"y":-1},{"s":"C","x":2.75,"y":3},{"s":"C","x":2.8,"y":8},{"s":"C","x":2.85,"y":11},{"s":"C","x":2.9,"y":11},{"s":"C","x":2.95,"y":10},{"s":"C","x":3,"y":10.5},{"s":"C","x":3.05,"y":11},{"s":"C","x":3.1,"y":10},{"s":"C","x":3.15,"y":9},{"s":"C","x":3.2,"y":5},{"s":"C","x":3.3,"y":3},{"s":"C","x":3.4,"y":2.5},{"s":"C","x":3.5,"y":2},{"s":"C","x":3.6,"y":1.5},{"s":"C","x":3.7,"y":1.5},{"s":"C","x":3.8,"y":-1},{"s":"C","x":3.85,"y":0},{"s":"C","x":3.9,"y":0.5},{"s":"C","x":3.95,"y":3},
{"s":"D","x":-3,"y":-0.1},{"s":"D","x":-2.75,"y":-0.3},{"s":"D","x":-2.5,"y":0},{"s":"D","x":-2.25,"y":0.2},{"s":"D","x":-2,"y":0.1},{"s":"D","x":-1.75,"y":0},{"s":"D","x":-1.5,"y":0},{"s":"D","x":-1.25,"y":0.1},{"s":"D","x":-1,"y":0.1},{"s":"D","x":-0.75,"y":0.2},{"s":"D","x":-0.6,"y":0.5},{"s":"D","x":-0.5,"y":0.4},{"s":"D","x":-0.25,"y":0.3},
{"s":"D","x":0,"y":0.5},{"s":"D","x":0.15,"y":1},{"s":"D","x":0.3,"y":1},{"s":"D","x":0.45,"y":0.7},{"s":"D","x":0.6,"y":0.5},{"s":"D","x":0.7,"y":0.2},{"s":"D","x":0.8,"y":0.3},{"s":"D","x":0.9,"y":0.2},{"s":"D","x":1,"y":0.5},{"s":"D","x":1.1,"y":0},{"s":"D","x":1.2,"y":2},{"s":"D","x":1.3,"y":1},{"s":"D","x":1.4,"y":2},{"s":"D","x":1.45,"y":1.5},{"s":"D","x":1.5,"y":1.2},{"s":"D","x":1.55,"y":1},{"s":"D","x":1.6,"y":1},{"s":"D","x":1.7,"y":1.5},{"s":"D","x":1.8,"y":1.2},{"s":"D","x":1.85,"y":0.5},{"s":"D","x":1.9,"y":0.5},{"s":"D","x":2,"y":1},{"s":"D","x":2.1,"y":2.5},{"s":"D","x":2.2,"y":3},{"s":"D","x":2.3,"y":3},{"s":"D","x":2.35,"y":4.5},{"s":"D","x":2.4,"y":2.5},{"s":"D","x":2.45,"y":2},{"s":"D","x":2.5,"y":3.5},{"s":"D","x":2.55,"y":3},{"s":"D","x":2.6,"y":2},{"s":"D","x":2.65,"y":0},{"s":"D","x":2.7,"y":-2.5},{"s":"D","x":2.75,"y":-2},{"s":"D","x":2.8,"y":-1.5},{"s":"D","x":2.85,"y":1},{"s":"D","x":2.9,"y":1.5},{"s":"D","x":2.95,"y":2},{"s":"D","x":3,"y":5},{"s":"D","x":3.05,"y":5.5},{"s":"D","x":3.1,"y":7},{"s":"D","x":3.15,"y":7.2},{"s":"D","x":3.2,"y":4},{"s":"D","x":3.3,"y":5},{"s":"D","x":3.4,"y":2},{"s":"D","x":3.5,"y":3},{"s":"D","x":3.6,"y":3},{"s":"D","x":3.7,"y":2},{"s":"D","x":3.8,"y":2.5},{"s":"D","x":3.85,"y":1.5},{"s":"D","x":3.9,"y":0.5},{"s":"D","x":3.95,"y":4.5},
{"s":"E","x":-3,"y":0.2},{"s":"E","x":-2.75,"y":-0.3},{"s":"E","x":-2.5,"y":0},{"s":"E","x":-2.25,"y":0.2},{"s":"E","x":-2,"y":0.1},{"s":"E","x":-1.75,"y":0},{"s":"E","x":-1.5,"y":0.1},{"s":"E","x":-1.25,"y":0},{"s":"E","x":-1,"y":0.1},{"s":"E","x":-0.75,"y":0},{"s":"E","x":-0.6,"y":0.2},{"s":"E","x":-0.5,"y":0.2},{"s":"E","x":-0.25,"y":0},
{"s":"E","x":0,"y":0},{"s":"E","x":0.15,"y":0.1},{"s":"E","x":0.3,"y":0},{"s":"E","x":0.45,"y":0.1},{"s":"E","x":0.6,"y":0.2},{"s":"E","x":0.7,"y":0.1},{"s":"E","x":0.8,"y":0},{"s":"E","x":0.9,"y":0},{"s":"E","x":1,"y":0.1},{"s":"E","x":1.1,"y":0.2},{"s":"E","x":1.2,"y":0.1},{"s":"E","x":1.3,"y":0},{"s":"E","x":1.4,"y":0},{"s":"E","x":1.45,"y":0},{"s":"E","x":1.5,"y":-0.1},{"s":"E","x":1.55,"y":0},{"s":"E","x":1.6,"y":-0.1},{"s":"E","x":1.7,"y":-0.2},{"s":"E","x":1.8,"y":-0.3},{"s":"E","x":1.85,"y":-0.5},{"s":"E","x":1.9,"y":-0.5},{"s":"E","x":2,"y":-1},{"s":"E","x":2.1,"y":-0.5},{"s":"E","x":2.2,"y":-0.5},{"s":"E","x":2.3,"y":0},{"s":"E","x":2.35,"y":0.3},{"s":"E","x":2.4,"y":0.5},{"s":"E","x":2.45,"y":-2.5},{"s":"E","x":2.5,"y":-3},{"s":"E","x":2.55,"y":-3.5},{"s":"E","x":2.6,"y":-4},{"s":"E","x":2.65,"y":-5},{"s":"E","x":2.7,"y":-5.5},{"s":"E","x":2.75,"y":-4},{"s":"E","x":2.8,"y":-2.5},{"s":"E","x":2.85,"y":-2},{"s":"E","x":2.9,"y":-3.5},{"s":"E","x":2.95,"y":-2},{"s":"E","x":3,"y":0},{"s":"E","x":3.05,"y":2},{"s":"E","x":3.1,"y":3},{"s":"E","x":3.15,"y":4},{"s":"E","x":3.2,"y":4},{"s":"E","x":3.3,"y":3},{"s":"E","x":3.4,"y":3},{"s":"E","x":3.5,"y":2},{"s":"E","x":3.6,"y":3.5},{"s":"E","x":3.7,"y":1.5},{"s":"E","x":3.8,"y":2},{"s":"E","x":3.85,"y":1},{"s":"E","x":3.9,"y":0},{"s":"E","x":3.95,"y":3}
],
"h": [
{"s":"A","x":37.43,"y":2},{"s":"A","x":37.46,"y":6},{"s":"A","x":37.48,"y":7.8},{"s":"A","x":37.52,"y":7.5},{"s":"A","x":37.55,"y":3},{"s":"A","x":37.58,"y":-1},{"s":"A","x":37.62,"y":0},{"s":"A","x":37.7,"y":1.5},{"s":"A","x":37.8,"y":2.5},{"s":"A","x":37.9,"y":3},{"s":"A","x":38,"y":3.6},{"s":"A","x":38.2,"y":3},{"s":"A","x":38.4,"y":2},{"s":"A","x":38.6,"y":1.5},{"s":"A","x":38.8,"y":1.5},{"s":"A","x":38.95,"y":1.5},{"s":"A","x":39.1,"y":1},{"s":"A","x":39.2,"y":0.4},{"s":"A","x":39.35,"y":0.4},{"s":"A","x":39.45,"y":-1},{"s":"A","x":39.5,"y":-3.5},{"s":"A","x":39.55,"y":-6.5},{"s":"A","x":39.6,"y":-8.3},{"s":"A","x":39.65,"y":-5},{"s":"A","x":39.7,"y":0.5},{"s":"A","x":39.75,"y":-1},{"s":"A","x":39.8,"y":0},{"s":"A","x":39.9,"y":0.3},{"s":"A","x":40,"y":0.6},{"s":"A","x":40.1,"y":0.8},{"s":"A","x":40.2,"y":0.2},{"s":"A","x":40.3,"y":0.5},{"s":"A","x":40.4,"y":1},{"s":"A","x":40.45,"y":1.5},{"s":"A","x":40.5,"y":1},{"s":"A","x":40.55,"y":0.5},{"s":"A","x":40.6,"y":0.2},{"s":"A","x":40.7,"y":-0.5},{"s":"A","x":40.8,"y":0},
{"s":"A","x":41,"y":-0.3},{"s":"A","x":41.2,"y":0.3},{"s":"A","x":41.4,"y":-0.5},{"s":"A","x":41.6,"y":-0.7},{"s":"A","x":41.8,"y":-0.4},{"s":"A","x":42,"y":-1},{"s":"A","x":42.2,"y":-0.6},{"s":"A","x":42.4,"y":-0.7},{"s":"A","x":42.6,"y":-0.5},{"s":"A","x":42.8,"y":-0.5},{"s":"A","x":43,"y":-0.3},{"s":"A","x":43.2,"y":-0.2},{"s":"A","x":43.4,"y":-0.6},{"s":"A","x":43.6,"y":0},{"s":"A","x":43.75,"y":1},{"s":"A","x":43.9,"y":0},{"s":"A","x":44.1,"y":-0.2},{"s":"A","x":44.25,"y":0.3},{"s":"A","x":44.33,"y":-0.1},
{"s":"B","x":37.43,"y":-3},{"s":"B","x":37.46,"y":-1.5},{"s":"B","x":37.48,"y":-0.5},{"s":"B","x":37.52,"y":0},{"s":"B","x":37.55,"y":0.3},{"s":"B","x":37.58,"y":0.5},{"s":"B","x":37.62,"y":0},{"s":"B","x":37.7,"y":0},{"s":"B","x":37.8,"y":0.2},{"s":"B","x":37.9,"y":0},{"s":"B","x":38,"y":0},{"s":"B","x":38.2,"y":0.2},{"s":"B","x":38.4,"y":0.1},{"s":"B","x":38.6,"y":0.3},{"s":"B","x":38.8,"y":0},{"s":"B","x":38.95,"y":-0.1},{"s":"B","x":39.1,"y":-0.2},{"s":"B","x":39.2,"y":-0.3},{"s":"B","x":39.35,"y":-0.5},{"s":"B","x":39.45,"y":-2},{"s":"B","x":39.5,"y":-4},{"s":"B","x":39.55,"y":-5.5},{"s":"B","x":39.6,"y":-6},{"s":"B","x":39.65,"y":-3.5},{"s":"B","x":39.7,"y":-1},{"s":"B","x":39.75,"y":-0.5},{"s":"B","x":39.8,"y":0},{"s":"B","x":39.9,"y":0.2},{"s":"B","x":40,"y":0.3},{"s":"B","x":40.1,"y":0.2},{"s":"B","x":40.2,"y":0.3},{"s":"B","x":40.3,"y":0},{"s":"B","x":40.4,"y":-0.3},{"s":"B","x":40.45,"y":-1.5},{"s":"B","x":40.5,"y":-2},{"s":"B","x":40.55,"y":0},{"s":"B","x":40.6,"y":0.3},{"s":"B","x":40.7,"y":0.2},{"s":"B","x":40.8,"y":0},
{"s":"B","x":41,"y":-0.3},{"s":"B","x":41.2,"y":0.2},{"s":"B","x":41.4,"y":-0.3},{"s":"B","x":41.6,"y":-0.4},{"s":"B","x":41.8,"y":-0.2},{"s":"B","x":42,"y":-0.5},{"s":"B","x":42.2,"y":-0.4},{"s":"B","x":42.4,"y":-0.4},{"s":"B","x":42.6,"y":-0.3},{"s":"B","x":42.8,"y":-0.3},{"s":"B","x":43,"y":-0.3},{"s":"B","x":43.2,"y":0},{"s":"B","x":43.4,"y":-0.3},{"s":"B","x":43.6,"y":-0.2},{"s":"B","x":43.75,"y":0.2},{"s":"B","x":43.9,"y":-0.1},{"s":"B","x":44.1,"y":-0.3},{"s":"B","x":44.25,"y":0.3},{"s":"B","x":44.33,"y":0},
{"s":"C","x":37.43,"y":-3.5},{"s":"C","x":37.46,"y":-2},{"s":"C","x":37.48,"y":-0.5},{"s":"C","x":37.52,"y":0},{"s":"C","x":37.55,"y":0.3},{"s":"C","x":37.58,"y":0.5},{"s":"C","x":37.62,"y":0.5},{"s":"C","x":37.7,"y":0.3},{"s":"C","x":37.8,"y":0},{"s":"C","x":37.9,"y":0.3},{"s":"C","x":38,"y":0.5},{"s":"C","x":38.2,"y":0.5},{"s":"C","x":38.4,"y":0.5},{"s":"C","x":38.6,"y":0.3},{"s":"C","x":38.8,"y":0.2},{"s":"C","x":38.95,"y":0},{"s":"C","x":39.1,"y":0.2},{"s":"C","x":39.2,"y":0.4},{"s":"C","x":39.35,"y":0.5},{"s":"C","x":39.45,"y":-1},{"s":"C","x":39.5,"y":-2.5},{"s":"C","x":39.55,"y":-4},{"s":"C","x":39.6,"y":-4.5},{"s":"C","x":39.65,"y":-2.5},{"s":"C","x":39.7,"y":0},{"s":"C","x":39.75,"y":-0.5},{"s":"C","x":39.8,"y":0},{"s":"C","x":39.9,"y":0.5},{"s":"C","x":40,"y":0.5},{"s":"C","x":40.1,"y":0.6},{"s":"C","x":40.2,"y":0.3},{"s":"C","x":40.3,"y":0.4},{"s":"C","x":40.4,"y":0.5},{"s":"C","x":40.45,"y":0},{"s":"C","x":40.5,"y":-0.5},{"s":"C","x":40.55,"y":0.5},{"s":"C","x":40.6,"y":0.6},{"s":"C","x":40.7,"y":0.3},{"s":"C","x":40.8,"y":0.2},
{"s":"C","x":41,"y":-0.2},{"s":"C","x":41.2,"y":0.3},{"s":"C","x":41.4,"y":-0.3},{"s":"C","x":41.6,"y":-0.3},{"s":"C","x":41.8,"y":-0.2},{"s":"C","x":42,"y":-0.4},{"s":"C","x":42.2,"y":-0.3},{"s":"C","x":42.4,"y":-0.3},{"s":"C","x":42.6,"y":-0.2},{"s":"C","x":42.8,"y":-0.2},{"s":"C","x":43,"y":-0.2},{"s":"C","x":43.2,"y":0.2},{"s":"C","x":43.4,"y":-0.2},{"s":"C","x":43.6,"y":-0.1},{"s":"C","x":43.75,"y":0.3},{"s":"C","x":43.9,"y":0},{"s":"C","x":44.1,"y":-0.1},{"s":"C","x":44.25,"y":0.6},{"s":"C","x":44.33,"y":0.2},
{"s":"D","x":37.43,"y":-4},{"s":"D","x":37.46,"y":-3},{"s":"D","x":37.48,"y":-2},{"s":"D","x":37.52,"y":-1},{"s":"D","x":37.55,"y":0},{"s":"D","x":37.58,"y":0.5},{"s":"D","x":37.62,"y":0.5},{"s":"D","x":37.7,"y":0.5},{"s":"D","x":37.8,"y":0.5},{"s":"D","x":37.9,"y":1},{"s":"D","x":38,"y":1.2},{"s":"D","x":38.2,"y":1.5},{"s":"D","x":38.4,"y":1.5},{"s":"D","x":38.6,"y":1.5},{"s":"D","x":38.8,"y":1.5},{"s":"D","x":38.95,"y":1.5},{"s":"D","x":39.1,"y":1.2},{"s":"D","x":39.2,"y":1},{"s":"D","x":39.35,"y":0.5},{"s":"D","x":39.45,"y":-0.5},{"s":"D","x":39.5,"y":-3},{"s":"D","x":39.55,"y":-5},{"s":"D","x":39.6,"y":-5.5},{"s":"D","x":39.65,"y":-3},{"s":"D","x":39.7,"y":-1},{"s":"D","x":39.75,"y":-0.5},{"s":"D","x":39.8,"y":0},{"s":"D","x":39.9,"y":0.3},{"s":"D","x":40,"y":0.5},{"s":"D","x":40.1,"y":0.5},{"s":"D","x":40.2,"y":0.4},{"s":"D","x":40.3,"y":0.5},{"s":"D","x":40.4,"y":0.3},{"s":"D","x":40.45,"y":-0.8},{"s":"D","x":40.5,"y":-1.5},{"s":"D","x":40.55,"y":0},{"s":"D","x":40.6,"y":0.5},{"s":"D","x":40.7,"y":0.3},{"s":"D","x":40.8,"y":0},
{"s":"D","x":41,"y":-0.2},{"s":"D","x":41.2,"y":0.3},{"s":"D","x":41.4,"y":-0.2},{"s":"D","x":41.6,"y":-0.4},{"s":"D","x":41.8,"y":-0.2},{"s":"D","x":42,"y":-0.5},{"s":"D","x":42.2,"y":-0.4},{"s":"D","x":42.4,"y":-0.4},{"s":"D","x":42.6,"y":-0.3},{"s":"D","x":42.8,"y":-0.2},{"s":"D","x":43,"y":-0.2},{"s":"D","x":43.2,"y":0.3},{"s":"D","x":43.4,"y":-0.2},{"s":"D","x":43.6,"y":-0.1},{"s":"D","x":43.75,"y":0.4},{"s":"D","x":43.9,"y":0},{"s":"D","x":44.1,"y":-0.2},{"s":"D","x":44.25,"y":0.5},{"s":"D","x":44.33,"y":0.1},
{"s":"E","x":37.43,"y":-1},{"s":"E","x":37.46,"y":-1.2},{"s":"E","x":37.48,"y":-0.6},{"s":"E","x":37.52,"y":-0.8},{"s":"E","x":37.55,"y":-0.5},{"s":"E","x":37.58,"y":-1},{"s":"E","x":37.62,"y":-0.8},{"s":"E","x":37.7,"y":-0.4},{"s":"E","x":37.8,"y":-0.5},{"s":"E","x":37.9,"y":-0.3},{"s":"E","x":38,"y":-0.5},{"s":"E","x":38.2,"y":-0.8},{"s":"E","x":38.4,"y":-0.8},{"s":"E","x":38.6,"y":-0.6},{"s":"E","x":38.8,"y":-0.5},{"s":"E","x":38.95,"y":-0.4},{"s":"E","x":39.1,"y":-0.5},{"s":"E","x":39.2,"y":-0.3},{"s":"E","x":39.35,"y":0.3},{"s":"E","x":39.45,"y":-1.5},{"s":"E","x":39.5,"y":-3},{"s":"E","x":39.55,"y":-4.5},{"s":"E","x":39.6,"y":-5},{"s":"E","x":39.65,"y":-3},{"s":"E","x":39.7,"y":0},{"s":"E","x":39.75,"y":-1.5},{"s":"E","x":39.8,"y":0},{"s":"E","x":39.9,"y":0.3},{"s":"E","x":40,"y":0.5},{"s":"E","x":40.1,"y":0.4},{"s":"E","x":40.2,"y":0},{"s":"E","x":40.3,"y":0.2},{"s":"E","x":40.4,"y":0.5},{"s":"E","x":40.45,"y":0.5},{"s":"E","x":40.5,"y":0},{"s":"E","x":40.55,"y":-0.5},{"s":"E","x":40.6,"y":-0.2},{"s":"E","x":40.7,"y":0},{"s":"E","x":40.8,"y":-0.2},
{"s":"E","x":41,"y":-0.5},{"s":"E","x":41.2,"y":-0.2},{"s":"E","x":41.4,"y":-0.4},{"s":"E","x":41.6,"y":-0.8},{"s":"E","x":41.8,"y":-0.3},{"s":"E","x":42,"y":-0.5},{"s":"E","x":42.2,"y":0},{"s":"E","x":42.4,"y":-0.5},{"s":"E","x":42.6,"y":-0.4},{"s":"E","x":42.8,"y":-0.2},{"s":"E","x":43,"y":-0.7},{"s":"E","x":43.2,"y":-0.1},{"s":"E","x":43.4,"y":-0.4},{"s":"E","x":43.6,"y":-0.3},{"s":"E","x":43.75,"y":0},{"s":"E","x":43.9,"y":-0.2},{"s":"E","x":44.1,"y":-0.3},{"s":"E","x":44.25,"y":0.4},{"s":"E","x":44.33,"y":0}
]
},
"concat": [
{"title": "(a) First scene, radar reflectivities", "width": 505, "height": 94, "data": {"name": "a"},
 "mark": {"type": "line", "strokeWidth": 1.7, "clip": true},
 "encoding": {
  "x": {"field": "x", "type": "quantitative", "scale": {"domain": [-3, 3.95], "nice": false, "zero": false}, "axis": {"values": [-3, -2, -1, 0, 1, 2, 3], "title": null}},
  "y": {"field": "y", "type": "quantitative", "scale": {"domain": [-5, 5], "nice": false}, "axis": {"values": [-5, 0, 5], "title": "RMS [dB]"}},
  "color": {"field": "s", "type": "nominal", "scale": {"domain": ["A", "C", "E", "B", "D"], "range": ["#b2195b", "#2bbfe3", "#3b24a8", "#fb8012", "#178a5c"]},
   "legend": {"orient": "none", "legendX": 185, "legendY": 701, "direction": "horizontal", "columns": 3, "title": null, "symbolType": "M-2,0H2", "symbolSize": 400, "symbolStrokeWidth": 2.5, "labelFont": "Open Sans", "labelFontSize": 17, "labelOffset": 24, "labelLimit": 400, "columnPadding": 30, "rowPadding": 6, "labelExpr": "datum.label == 'A' ? 'GEM Cloud Ice' : datum.label == 'B' ? 'GEM Snow' : datum.label == 'C' ? 'GEM Graupel' : datum.label == 'D' ? 'Large Plate Aggregate' : 'Large Column Aggregate'"}}
 }},
{"title": "(b) Second scene, radar reflectivities", "width": 502, "height": 94, "data": {"name": "b"},
 "mark": {"type": "line", "strokeWidth": 1.7, "clip": true},
 "encoding": {
  "x": {"field": "x", "type": "quantitative", "scale": {"domain": [37.43, 44.33], "nice": false, "zero": false}, "axis": {"values": [38, 39, 40, 41, 42, 43, 44], "title": null}},
  "y": {"field": "y", "type": "quantitative", "scale": {"domain": [-5, 5], "nice": false}, "axis": {"values": [-5, 0, 5], "title": null}},
  "color": {"field": "s", "type": "nominal"}
 }},
{"title": "(c) First scene, 183.31 ± 7 GHz", "width": 505, "height": 94, "data": {"name": "c"},
 "mark": {"type": "line", "strokeWidth": 1.7, "clip": true},
 "encoding": {
  "x": {"field": "x", "type": "quantitative", "scale": {"domain": [-3, 3.95], "nice": false, "zero": false}, "axis": {"values": [-3, -2, -1, 0, 1, 2, 3], "title": null}},
  "y": {"field": "y", "type": "quantitative", "scale": {"domain": [-10, 10], "nice": false}, "axis": {"values": [-10, 0, 10], "title": "Δy [K]", "titleFont": "Liberation Serif", "titleFontSize": 17}},
  "color": {"field": "s", "type": "nominal"}
 }},
{"title": "(d) Second scene, 183.31 ± 7 GHz", "width": 502, "height": 94, "data": {"name": "d"},
 "mark": {"type": "line", "strokeWidth": 1.7, "clip": true},
 "encoding": {
  "x": {"field": "x", "type": "quantitative", "scale": {"domain": [37.43, 44.33], "nice": false, "zero": false}, "axis": {"values": [38, 39, 40, 41, 42, 43, 44], "title": null}},
  "y": {"field": "y", "type": "quantitative", "scale": {"domain": [-10, 10], "nice": false}, "axis": {"values": [-10, 0, 10], "title": null}},
  "color": {"field": "s", "type": "nominal"}
 }},
{"title": "(e) First scene, 325.15 ± 3.5 GHz", "width": 505, "height": 94, "data": {"name": "e"},
 "mark": {"type": "line", "strokeWidth": 1.7, "clip": true},
 "encoding": {
  "x": {"field": "x", "type": "quantitative", "scale": {"domain": [-3, 3.95], "nice": false, "zero": false}, "axis": {"values": [-3, -2, -1, 0, 1, 2, 3], "title": null}},
  "y": {"field": "y", "type": "quantitative", "scale": {"domain": [-10, 10], "nice": false}, "axis": {"values": [-10, 0, 10], "title": "Δy [K]", "titleFont": "Liberation Serif", "titleFontSize": 17}},
  "color": {"field": "s", "type": "nominal"}
 }},
{"title": "(f) Second scene, 325.15 ± 3.5 GHz", "width": 502, "height": 94, "data": {"name": "f"},
 "mark": {"type": "line", "strokeWidth": 1.7, "clip": true},
 "encoding": {
  "x": {"field": "x", "type": "quantitative", "scale": {"domain": [37.43, 44.33], "nice": false, "zero": false}, "axis": {"values": [38, 39, 40, 41, 42, 43, 44], "title": null}},
  "y": {"field": "y", "type": "quantitative", "scale": {"domain": [-10, 10], "nice": false}, "axis": {"values": [-10, 0, 10], "title": null}},
  "color": {"field": "s", "type": "nominal"}
 }},
{"title": "(g) First scene, 664 ± 4.2 GHz", "width": 505, "height": 94, "data": {"name": "g"},
 "mark": {"type": "line", "strokeWidth": 1.7, "clip": true},
 "encoding": {
  "x": {"field": "x", "type": "quantitative", "scale": {"domain": [-3, 3.95], "nice": false, "zero": false}, "axis": {"values": [-3, -2, -1, 0, 1, 2, 3], "title": "Latitude [°N]"}},
  "y": {"field": "y", "type": "quantitative", "scale": {"domain": [-10, 10], "nice": false}, "axis": {"values": [-10, 0, 10], "title": "Δy [K]", "titleFont": "Liberation Serif", "titleFontSize": 17}},
  "color": {"field": "s", "type": "nominal"}
 }},
{"title": "(h) Second scene, 664 ± 4.2 GHz", "width": 502, "height": 94, "data": {"name": "h"},
 "mark": {"type": "line", "strokeWidth": 1.7, "clip": true},
 "encoding": {
  "x": {"field": "x", "type": "quantitative", "scale": {"domain": [37.43, 44.33], "nice": false, "zero": false}, "axis": {"values": [38, 39, 40, 41, 42, 43, 44], "title": "Latitude [°N]"}},
  "y": {"field": "y", "type": "quantitative", "scale": {"domain": [-10, 10], "nice": false}, "axis": {"values": [-10, 0, 10], "title": null}},
  "color": {"field": "s", "type": "nominal"}
 }}
]
}
